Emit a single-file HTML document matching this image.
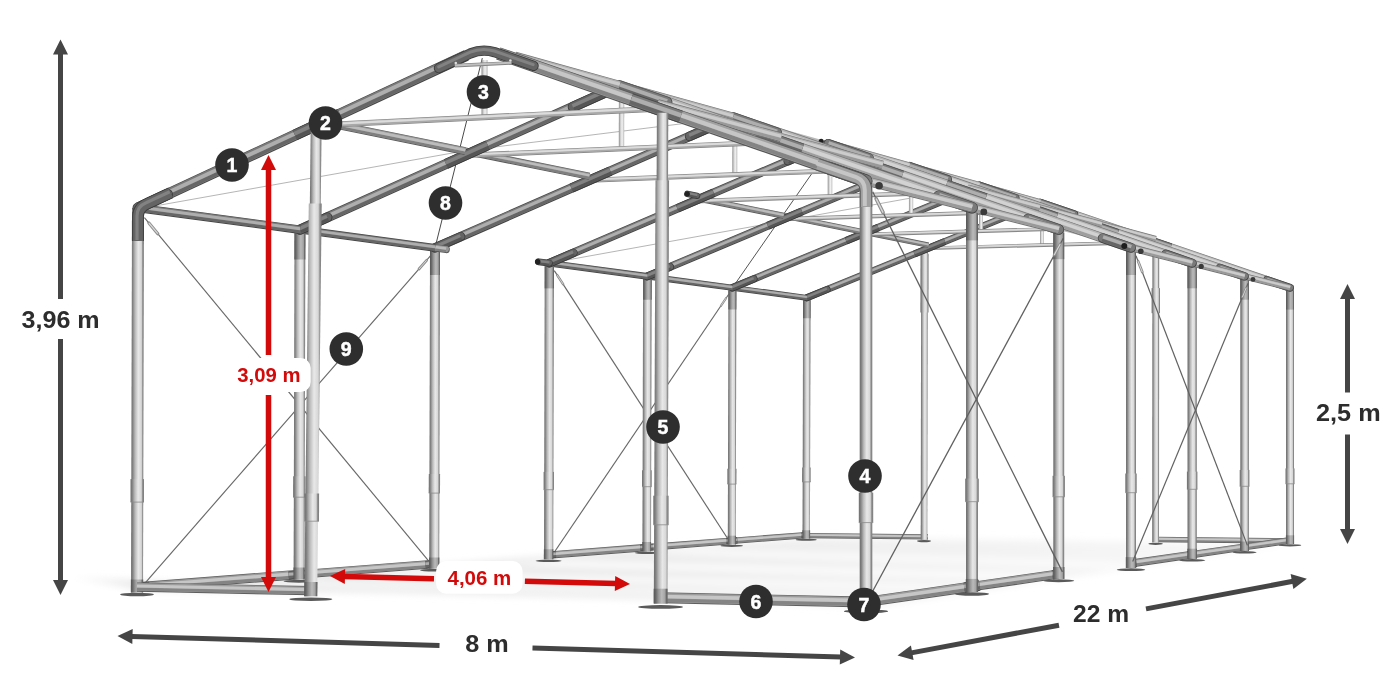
<!DOCTYPE html>
<html lang="pl">
<head>
<meta charset="utf-8">
<title>Wymiary konstrukcji hali namiotowej 8 m x 22 m</title>
<style>
html,body{margin:0;padding:0;background:#fff;}
body{width:1400px;height:700px;overflow:hidden;}
svg{display:block;will-change:transform;}
svg text{font-family:"Liberation Sans",sans-serif;font-weight:700;}
</style>
</head>
<body>
<svg width="1400" height="700" viewBox="0 0 1400 700">
<defs>
<linearGradient id="floor" gradientUnits="userSpaceOnUse" x1="64" y1="0" x2="1290" y2="0">
<stop offset="0" stop-color="#ffffff"/><stop offset="0.06" stop-color="#e7e7e7"/><stop offset="0.4" stop-color="#e9e9e9"/><stop offset="0.65" stop-color="#f0f0f0"/><stop offset="1" stop-color="#f8f8f8"/>
</linearGradient>
<filter id="soft" x="-5%" y="-20%" width="110%" height="140%"><feGaussianBlur stdDeviation="3.5"/></filter>
<linearGradient id="pg" x1="0" y1="0" x2="1" y2="0">
<stop offset="0" stop-color="#6e6e6e"/><stop offset="0.13" stop-color="#828282"/><stop offset="0.32" stop-color="#bababa"/><stop offset="0.56" stop-color="#e8e8e8"/><stop offset="0.8" stop-color="#d6d6d6"/><stop offset="0.89" stop-color="#929292"/><stop offset="1" stop-color="#787878"/>
</linearGradient>
<linearGradient id="pgm" x1="0" y1="0" x2="1" y2="0">
<stop offset="0" stop-color="#555555"/><stop offset="0.15" stop-color="#6a6a6a"/><stop offset="0.35" stop-color="#969696"/><stop offset="0.58" stop-color="#bababa"/><stop offset="0.82" stop-color="#a4a4a4"/><stop offset="0.9" stop-color="#707070"/><stop offset="1" stop-color="#5a5a5a"/>
</linearGradient>
<linearGradient id="pgd" x1="0" y1="0" x2="1" y2="0">
<stop offset="0" stop-color="#3e3e3e"/><stop offset="0.2" stop-color="#5a5a5a"/><stop offset="0.55" stop-color="#8c8c8c"/><stop offset="0.85" stop-color="#6e6e6e"/><stop offset="1" stop-color="#444444"/>
</linearGradient>
<linearGradient id="pgt" x1="0" y1="0" x2="1" y2="0">
<stop offset="0" stop-color="#8a8a8a"/><stop offset="0.3" stop-color="#cccccc"/><stop offset="0.6" stop-color="#f2f2f2"/><stop offset="0.85" stop-color="#d6d6d6"/><stop offset="1" stop-color="#909090"/>
</linearGradient>
<linearGradient id="floorL" x1="0" y1="0" x2="1" y2="0">
<stop offset="0" stop-color="#ffffff"/><stop offset="1" stop-color="#ededed"/>
</linearGradient>
</defs>
<rect width="1400" height="700" fill="#fff"/>
<g id="frame">
<g filter="url(#soft)">
<polygon points="62.0,576.5 145.2,590.5 383.7,592.6 675.0,599.7 871.9,607.1 1290.0,544.0 813.1,537.9 511.3,558.7 200.5,583.6" fill="url(#floor)"/>
<polygon points="256.7,584.7 896.4,599.4 921.7,595.7 302.6,581.0" fill="#fff" fill-opacity="0.85"/>
<polygon points="360.1,576.3 953.7,591.0 987.2,586.1 420.0,571.4" fill="#fff" fill-opacity="0.85"/>
<polygon points="493.1,565.4 1028.5,580.0 1066.3,574.4 559.4,559.9" fill="#fff" fill-opacity="0.8"/>
<polygon points="634.2,553.8 1109.3,568.1 1145.8,562.8 697.0,548.7" fill="#fff" fill-opacity="0.7"/>
</g>
<line x1="806.2" y1="535.6" x2="928.0" y2="536.9" stroke-linecap="butt" stroke="#5e5e5e" stroke-width="5.28"/>
<line x1="806.2" y1="535.4" x2="928.0" y2="536.7" stroke-linecap="butt" stroke="#9c9c9c" stroke-width="3.68"/>
<line x1="806.2" y1="536.7" x2="928.0" y2="538.1" stroke-linecap="butt" stroke="#848484" stroke-width="1.58"/>
<line x1="806.2" y1="534.9" x2="928.0" y2="536.3" stroke-linecap="butt" stroke="#c6c6c6" stroke-width="1.80"/>
<line x1="1155.6" y1="539.4" x2="1290.0" y2="540.9" stroke-linecap="butt" stroke="#5e5e5e" stroke-width="5.55"/>
<line x1="1155.6" y1="539.2" x2="1290.0" y2="540.7" stroke-linecap="butt" stroke="#9c9c9c" stroke-width="3.95"/>
<line x1="1155.6" y1="540.7" x2="1290.0" y2="542.1" stroke-linecap="butt" stroke="#848484" stroke-width="1.66"/>
<line x1="1155.6" y1="538.8" x2="1290.0" y2="540.3" stroke-linecap="butt" stroke="#c6c6c6" stroke-width="1.89"/>
<ellipse cx="924.0" cy="541.1" rx="7.0" ry="1.1" fill="#5a5a5a"/>
<ellipse cx="1155.6" cy="543.8" rx="7.2" ry="1.1" fill="#5a5a5a"/>
<polygon points="920.7,539.8 927.3,539.8 927.8,248.3 921.2,248.3" fill="url(#pg)"/>
<polygon points="920.4,312.5 928.5,312.5 928.6,253.8 920.5,253.8" fill="url(#pg)"/>
<polygon points="1152.2,542.5 1159.0,542.5 1159.2,242.1 1152.4,242.1" fill="url(#pg)"/>
<polygon points="1151.6,313.2 1160.0,313.2 1160.0,288.1 1151.6,288.1" fill="url(#pg)"/>
<line x1="731.8" y1="540.9" x2="806.2" y2="535.1" stroke-linecap="butt" stroke="#5e5e5e" stroke-width="6.44"/>
<line x1="731.7" y1="540.7" x2="806.2" y2="534.9" stroke-linecap="butt" stroke="#9c9c9c" stroke-width="4.84"/>
<line x1="731.9" y1="542.3" x2="806.3" y2="536.5" stroke-linecap="butt" stroke="#848484" stroke-width="1.93"/>
<line x1="731.7" y1="540.1" x2="806.2" y2="534.3" stroke-linecap="butt" stroke="#c6c6c6" stroke-width="2.19"/>
<line x1="646.7" y1="547.5" x2="731.8" y2="540.9" stroke-linecap="butt" stroke="#5e5e5e" stroke-width="6.88"/>
<line x1="646.7" y1="547.3" x2="731.7" y2="540.7" stroke-linecap="butt" stroke="#9c9c9c" stroke-width="5.28"/>
<line x1="646.8" y1="549.0" x2="731.9" y2="542.4" stroke-linecap="butt" stroke="#848484" stroke-width="2.06"/>
<line x1="646.6" y1="546.7" x2="731.7" y2="540.0" stroke-linecap="butt" stroke="#c6c6c6" stroke-width="2.34"/>
<line x1="548.6" y1="555.1" x2="646.7" y2="547.5" stroke-linecap="butt" stroke="#5e5e5e" stroke-width="7.39"/>
<line x1="548.6" y1="554.9" x2="646.7" y2="547.3" stroke-linecap="butt" stroke="#9c9c9c" stroke-width="5.79"/>
<line x1="548.7" y1="556.7" x2="646.8" y2="549.1" stroke-linecap="butt" stroke="#848484" stroke-width="2.22"/>
<line x1="548.5" y1="554.2" x2="646.6" y2="546.6" stroke-linecap="butt" stroke="#c6c6c6" stroke-width="2.51"/>
<line x1="299.1" y1="574.5" x2="434.2" y2="564.0" stroke-linecap="butt" stroke="#5e5e5e" stroke-width="8.67"/>
<line x1="299.0" y1="574.3" x2="434.2" y2="563.8" stroke-linecap="butt" stroke="#9c9c9c" stroke-width="7.07"/>
<line x1="299.2" y1="576.4" x2="434.3" y2="565.9" stroke-linecap="butt" stroke="#848484" stroke-width="2.60"/>
<line x1="299.0" y1="573.5" x2="434.1" y2="563.0" stroke-linecap="butt" stroke="#c6c6c6" stroke-width="2.95"/>
<line x1="137.0" y1="587.1" x2="299.1" y2="574.5" stroke-linecap="butt" stroke="#5e5e5e" stroke-width="9.49"/>
<line x1="137.0" y1="586.9" x2="299.0" y2="574.3" stroke-linecap="butt" stroke="#9c9c9c" stroke-width="7.89"/>
<line x1="137.2" y1="589.2" x2="299.2" y2="576.6" stroke-linecap="butt" stroke="#848484" stroke-width="2.85"/>
<line x1="136.9" y1="586.0" x2="299.0" y2="573.4" stroke-linecap="butt" stroke="#c6c6c6" stroke-width="3.23"/>
<line x1="554.3" y1="270.6" x2="728.1" y2="539.3" stroke="#686868" stroke-width="1.15"/>
<line x1="557.2" y1="275.1" x2="563.1" y2="284.1" stroke="#8e8e8e" stroke-width="2.5" stroke-linecap="round"/>
<line x1="557.2" y1="275.1" x2="563.1" y2="284.1" stroke="#d8d8d8" stroke-width="0.9"/>
<line x1="553.6" y1="553.3" x2="728.7" y2="294.2" stroke="#686868" stroke-width="1.15"/>
<line x1="726.1" y1="298.1" x2="720.9" y2="305.8" stroke="#8e8e8e" stroke-width="2.1" stroke-linecap="round"/>
<line x1="726.1" y1="298.1" x2="720.9" y2="305.8" stroke="#d8d8d8" stroke-width="0.8"/>
<line x1="144.4" y1="217.6" x2="429.6" y2="562.1" stroke="#686868" stroke-width="1.15"/>
<line x1="148.9" y1="223.0" x2="157.8" y2="233.7" stroke="#8e8e8e" stroke-width="3.2" stroke-linecap="round"/>
<line x1="148.9" y1="223.0" x2="157.8" y2="233.7" stroke="#d8d8d8" stroke-width="1.2"/>
<line x1="143.5" y1="584.8" x2="430.4" y2="255.9" stroke="#686868" stroke-width="1.15"/>
<line x1="426.6" y1="260.3" x2="419.0" y2="269.0" stroke="#8e8e8e" stroke-width="2.7" stroke-linecap="round"/>
<line x1="426.6" y1="260.3" x2="419.0" y2="269.0" stroke="#d8d8d8" stroke-width="1.0"/>
<line x1="828.2" y1="150.0" x2="732.4" y2="287.8" stroke="#555" stroke-width="1.0"/>
<line x1="549.3" y1="263.2" x2="979.4" y2="185.7" stroke="#adadad" stroke-width="0.9"/>
<polyline points="152,206.5 466,150.6 733.0,117.4" fill="none" stroke="#adadad" stroke-width="0.9"/>
<line x1="482.3" y1="58.1" x2="435.0" y2="247.9" stroke="#4a4a4a" stroke-width="1.0"/>
<line x1="828.2" y1="143.8" x2="1244.6" y2="276.4" stroke="#adadad" stroke-width="0.9"/>
<line x1="866.0" y1="181.0" x2="733.0" y2="117.4" stroke="#adadad" stroke-width="0.9"/>
<polygon points="1040.0,245.1 1043.6,245.1 1043.7,210.0 1040.1,210.0" fill="url(#pgt)"/>
<line x1="928.5" y1="248.2" x2="1155.8" y2="242.1" stroke-linecap="butt" stroke="#848484" stroke-width="3.61"/>
<line x1="928.5" y1="248.0" x2="1155.8" y2="241.9" stroke-linecap="butt" stroke="#c0c0c0" stroke-width="2.01"/>
<line x1="928.5" y1="247.7" x2="1155.8" y2="241.6" stroke-linecap="butt" stroke="#dcdcdc" stroke-width="1.23"/>
<ellipse cx="806.2" cy="539.7" rx="10.6" ry="1.1" fill="#5a5a5a"/>
<polygon points="802.5,538.4 809.9,538.4 810.6,297.8 803.1,297.8" fill="url(#pg)"/>
<polygon points="802.1,481.9 810.6,481.9 810.6,467.4 802.2,467.4" fill="url(#pg)"/>
<line x1="802.1" y1="481.9" x2="810.6" y2="481.9" stroke="#8a8a8a" stroke-width="0.8"/>
<line x1="801.3" y1="535.5" x2="806.2" y2="535.1" stroke-linecap="butt" stroke="#454545" stroke-width="5.75"/>
<line x1="801.3" y1="535.3" x2="806.2" y2="534.9" stroke-linecap="butt" stroke="#7a7a7a" stroke-width="4.15"/>
<line x1="801.4" y1="536.7" x2="806.3" y2="536.3" stroke-linecap="butt" stroke="#666666" stroke-width="1.72"/>
<line x1="801.2" y1="534.8" x2="806.2" y2="534.4" stroke-linecap="butt" stroke="#aeaeae" stroke-width="1.95"/>
<polygon points="802.3,538.4 810.1,538.4 810.1,530.3 802.4,530.3" fill="url(#pgm)"/>
<polygon points="803.0,318.2 810.5,318.2 810.6,300.2 803.1,300.2" fill="url(#pgm)"/>
<line x1="806.8" y1="297.8" x2="1040.4" y2="202.6" stroke-linecap="round" stroke="#454545" stroke-width="6.97"/>
<line x1="806.8" y1="297.6" x2="1040.4" y2="202.4" stroke-linecap="round" stroke="#7a7a7a" stroke-width="5.37"/>
<line x1="807.4" y1="299.2" x2="1041.0" y2="204.0" stroke-linecap="butt" stroke="#666666" stroke-width="2.09"/>
<line x1="806.5" y1="297.0" x2="1040.1" y2="201.8" stroke-linecap="butt" stroke="#aeaeae" stroke-width="2.37"/>
<line x1="806.8" y1="297.8" x2="827.2" y2="289.4" stroke-linecap="round" stroke="#3c3c3c" stroke-width="6.87"/>
<line x1="806.8" y1="297.6" x2="827.2" y2="289.3" stroke-linecap="round" stroke="#646464" stroke-width="5.27"/>
<line x1="807.4" y1="299.2" x2="827.8" y2="290.8" stroke-linecap="butt" stroke="#555555" stroke-width="2.06"/>
<line x1="806.5" y1="297.0" x2="826.9" y2="288.7" stroke-linecap="butt" stroke="#828282" stroke-width="2.34"/>
<line x1="914.5" y1="253.9" x2="944.9" y2="241.5" stroke-linecap="butt" stroke="#3c3c3c" stroke-width="6.98"/>
<line x1="914.4" y1="253.7" x2="944.9" y2="241.3" stroke-linecap="butt" stroke="#646464" stroke-width="5.38"/>
<line x1="915.1" y1="255.3" x2="945.5" y2="242.9" stroke-linecap="butt" stroke="#555555" stroke-width="2.09"/>
<line x1="914.2" y1="253.1" x2="944.6" y2="240.7" stroke-linecap="butt" stroke="#828282" stroke-width="2.37"/>
<line x1="1006.8" y1="216.3" x2="1040.4" y2="202.6" stroke-linecap="round" stroke="#3c3c3c" stroke-width="7.07"/>
<line x1="1006.7" y1="216.1" x2="1040.4" y2="202.4" stroke-linecap="round" stroke="#646464" stroke-width="5.47"/>
<line x1="1007.4" y1="217.7" x2="1041.0" y2="204.1" stroke-linecap="butt" stroke="#555555" stroke-width="2.12"/>
<line x1="1006.5" y1="215.5" x2="1040.1" y2="201.8" stroke-linecap="butt" stroke="#828282" stroke-width="2.40"/>
<line x1="732.4" y1="287.8" x2="806.8" y2="297.8" stroke-linecap="butt" stroke="#454545" stroke-width="5.79"/>
<line x1="732.4" y1="287.6" x2="806.9" y2="297.6" stroke-linecap="butt" stroke="#7a7a7a" stroke-width="4.19"/>
<line x1="732.2" y1="289.1" x2="806.7" y2="299.0" stroke-linecap="butt" stroke="#666666" stroke-width="1.74"/>
<line x1="732.5" y1="287.1" x2="806.9" y2="297.1" stroke-linecap="butt" stroke="#aeaeae" stroke-width="1.97"/>
<line x1="861.0" y1="231.5" x2="928.5" y2="245.2" stroke-linecap="butt" stroke="#5a5a5a" stroke-width="5.37"/>
<line x1="861.0" y1="231.3" x2="928.6" y2="245.0" stroke-linecap="butt" stroke="#969696" stroke-width="3.77"/>
<line x1="860.7" y1="232.7" x2="928.3" y2="246.4" stroke-linecap="butt" stroke="#7f7f7f" stroke-width="1.61"/>
<line x1="861.1" y1="230.9" x2="928.7" y2="244.6" stroke-linecap="butt" stroke="#bcbcbc" stroke-width="1.83"/>
<polygon points="979.0,231.2 982.9,231.2 982.9,193.6 979.0,193.6" fill="url(#pgt)"/>
<line x1="861.0" y1="234.6" x2="1101.9" y2="227.6" stroke-linecap="butt" stroke="#848484" stroke-width="3.86"/>
<line x1="861.0" y1="234.4" x2="1101.9" y2="227.4" stroke-linecap="butt" stroke="#c0c0c0" stroke-width="2.26"/>
<line x1="860.9" y1="234.2" x2="1101.9" y2="227.2" stroke-linecap="butt" stroke="#dcdcdc" stroke-width="1.31"/>
<ellipse cx="731.7" cy="545.8" rx="11.3" ry="1.1" fill="#5a5a5a"/>
<polygon points="727.8,544.5 735.7,544.5 736.4,287.8 728.4,287.8" fill="url(#pg)"/>
<polygon points="727.4,484.1 736.4,484.1 736.5,468.7 727.4,468.7" fill="url(#pg)"/>
<line x1="727.4" y1="484.1" x2="736.4" y2="484.1" stroke="#8a8a8a" stroke-width="0.8"/>
<line x1="726.2" y1="541.3" x2="737.3" y2="540.4" stroke-linecap="butt" stroke="#454545" stroke-width="6.12"/>
<line x1="726.2" y1="541.1" x2="737.3" y2="540.2" stroke-linecap="butt" stroke="#7a7a7a" stroke-width="4.52"/>
<line x1="726.3" y1="542.6" x2="737.4" y2="541.8" stroke-linecap="butt" stroke="#666666" stroke-width="1.84"/>
<line x1="726.1" y1="540.6" x2="737.2" y2="539.7" stroke-linecap="butt" stroke="#aeaeae" stroke-width="2.08"/>
<polygon points="727.6,544.5 735.9,544.5 735.9,535.7 727.6,535.7" fill="url(#pgm)"/>
<polygon points="728.4,309.6 736.3,309.6 736.4,290.4 728.4,290.4" fill="url(#pgm)"/>
<line x1="732.4" y1="287.8" x2="979.4" y2="185.7" stroke-linecap="round" stroke="#454545" stroke-width="7.44"/>
<line x1="732.3" y1="287.6" x2="979.4" y2="185.5" stroke-linecap="round" stroke="#7a7a7a" stroke-width="5.84"/>
<line x1="733.0" y1="289.3" x2="980.1" y2="187.2" stroke-linecap="butt" stroke="#666666" stroke-width="2.23"/>
<line x1="732.1" y1="287.0" x2="979.1" y2="184.9" stroke-linecap="butt" stroke="#aeaeae" stroke-width="2.53"/>
<line x1="732.4" y1="287.8" x2="754.0" y2="278.9" stroke-linecap="round" stroke="#3c3c3c" stroke-width="7.33"/>
<line x1="732.3" y1="287.6" x2="753.9" y2="278.7" stroke-linecap="round" stroke="#646464" stroke-width="5.73"/>
<line x1="733.0" y1="289.3" x2="754.6" y2="280.4" stroke-linecap="butt" stroke="#555555" stroke-width="2.20"/>
<line x1="732.1" y1="287.0" x2="753.6" y2="278.1" stroke-linecap="butt" stroke="#828282" stroke-width="2.49"/>
<line x1="846.1" y1="240.8" x2="878.3" y2="227.5" stroke-linecap="butt" stroke="#3c3c3c" stroke-width="7.45"/>
<line x1="846.1" y1="240.6" x2="878.2" y2="227.3" stroke-linecap="butt" stroke="#646464" stroke-width="5.85"/>
<line x1="846.8" y1="242.3" x2="878.9" y2="229.0" stroke-linecap="butt" stroke="#555555" stroke-width="2.24"/>
<line x1="845.8" y1="239.9" x2="878.0" y2="226.6" stroke-linecap="butt" stroke="#828282" stroke-width="2.53"/>
<line x1="943.8" y1="200.4" x2="979.4" y2="185.7" stroke-linecap="round" stroke="#3c3c3c" stroke-width="7.56"/>
<line x1="943.7" y1="200.2" x2="979.4" y2="185.5" stroke-linecap="round" stroke="#646464" stroke-width="5.96"/>
<line x1="944.5" y1="202.0" x2="980.1" y2="187.3" stroke-linecap="butt" stroke="#555555" stroke-width="2.27"/>
<line x1="943.5" y1="199.6" x2="979.1" y2="184.9" stroke-linecap="butt" stroke="#828282" stroke-width="2.57"/>
<line x1="647.4" y1="276.4" x2="732.4" y2="287.8" stroke-linecap="butt" stroke="#454545" stroke-width="6.19"/>
<line x1="647.4" y1="276.2" x2="732.4" y2="287.6" stroke-linecap="butt" stroke="#7a7a7a" stroke-width="4.59"/>
<line x1="647.2" y1="277.7" x2="732.2" y2="289.1" stroke-linecap="butt" stroke="#666666" stroke-width="1.86"/>
<line x1="647.5" y1="275.6" x2="732.5" y2="287.1" stroke-linecap="butt" stroke="#aeaeae" stroke-width="2.10"/>
<line x1="783.6" y1="215.8" x2="861.0" y2="231.5" stroke-linecap="butt" stroke="#5a5a5a" stroke-width="5.75"/>
<line x1="783.6" y1="215.6" x2="861.0" y2="231.3" stroke-linecap="butt" stroke="#969696" stroke-width="4.15"/>
<line x1="783.3" y1="217.0" x2="860.7" y2="232.7" stroke-linecap="butt" stroke="#7f7f7f" stroke-width="1.72"/>
<line x1="783.7" y1="215.1" x2="861.1" y2="230.8" stroke-linecap="butt" stroke="#bcbcbc" stroke-width="1.95"/>
<polygon points="908.9,215.1 913.1,215.1 913.1,174.8 909.0,174.8" fill="url(#pgt)"/>
<line x1="783.6" y1="219.1" x2="1039.8" y2="211.0" stroke-linecap="butt" stroke="#848484" stroke-width="4.14"/>
<line x1="783.6" y1="218.9" x2="1039.8" y2="210.8" stroke-linecap="butt" stroke="#c0c0c0" stroke-width="2.54"/>
<line x1="783.6" y1="218.6" x2="1039.8" y2="210.5" stroke-linecap="butt" stroke="#dcdcdc" stroke-width="1.41"/>
<ellipse cx="646.7" cy="552.8" rx="12.1" ry="1.2" fill="#5a5a5a"/>
<polygon points="642.4,551.3 651.0,551.3 651.7,276.4 643.1,276.4" fill="url(#pg)"/>
<polygon points="642.0,486.7 651.7,486.7 651.7,470.2 642.1,470.2" fill="url(#pg)"/>
<line x1="642.0" y1="486.7" x2="651.7" y2="486.7" stroke="#8a8a8a" stroke-width="0.8"/>
<line x1="640.3" y1="548.0" x2="653.0" y2="547.0" stroke-linecap="butt" stroke="#454545" stroke-width="6.55"/>
<line x1="640.3" y1="547.8" x2="653.0" y2="546.8" stroke-linecap="butt" stroke="#7a7a7a" stroke-width="4.95"/>
<line x1="640.4" y1="549.4" x2="653.2" y2="548.4" stroke-linecap="butt" stroke="#666666" stroke-width="1.97"/>
<line x1="640.2" y1="547.2" x2="653.0" y2="546.2" stroke-linecap="butt" stroke="#aeaeae" stroke-width="2.23"/>
<polygon points="642.3,551.3 651.1,551.3 651.1,542.0 642.3,542.0" fill="url(#pgm)"/>
<polygon points="643.1,299.7 651.6,299.7 651.7,279.1 643.1,279.1" fill="url(#pgm)"/>
<line x1="647.4" y1="276.4" x2="909.4" y2="166.3" stroke-linecap="round" stroke="#454545" stroke-width="7.98"/>
<line x1="647.3" y1="276.2" x2="909.4" y2="166.1" stroke-linecap="round" stroke="#7a7a7a" stroke-width="6.38"/>
<line x1="648.1" y1="278.0" x2="910.1" y2="167.9" stroke-linecap="butt" stroke="#666666" stroke-width="2.39"/>
<line x1="647.0" y1="275.5" x2="909.1" y2="165.4" stroke-linecap="butt" stroke="#aeaeae" stroke-width="2.71"/>
<line x1="647.4" y1="276.4" x2="670.2" y2="266.8" stroke-linecap="round" stroke="#3c3c3c" stroke-width="7.85"/>
<line x1="647.3" y1="276.2" x2="670.1" y2="266.6" stroke-linecap="round" stroke="#646464" stroke-width="6.25"/>
<line x1="648.1" y1="278.0" x2="670.9" y2="268.4" stroke-linecap="butt" stroke="#555555" stroke-width="2.35"/>
<line x1="647.0" y1="275.5" x2="669.8" y2="265.9" stroke-linecap="butt" stroke="#828282" stroke-width="2.67"/>
<line x1="767.9" y1="225.7" x2="802.0" y2="211.4" stroke-linecap="butt" stroke="#3c3c3c" stroke-width="7.99"/>
<line x1="767.8" y1="225.6" x2="801.9" y2="211.2" stroke-linecap="butt" stroke="#646464" stroke-width="6.39"/>
<line x1="768.6" y1="227.4" x2="802.7" y2="213.0" stroke-linecap="butt" stroke="#555555" stroke-width="2.40"/>
<line x1="767.5" y1="224.9" x2="801.6" y2="210.5" stroke-linecap="butt" stroke="#828282" stroke-width="2.72"/>
<line x1="871.6" y1="182.2" x2="909.4" y2="166.3" stroke-linecap="round" stroke="#3c3c3c" stroke-width="8.11"/>
<line x1="871.5" y1="182.0" x2="909.4" y2="166.1" stroke-linecap="round" stroke="#646464" stroke-width="6.51"/>
<line x1="872.3" y1="183.9" x2="910.1" y2="168.0" stroke-linecap="butt" stroke="#555555" stroke-width="2.43"/>
<line x1="871.2" y1="181.3" x2="909.1" y2="165.4" stroke-linecap="butt" stroke="#828282" stroke-width="2.76"/>
<line x1="549.3" y1="263.2" x2="647.4" y2="276.4" stroke-linecap="butt" stroke="#454545" stroke-width="6.65"/>
<line x1="549.4" y1="263.0" x2="647.4" y2="276.2" stroke-linecap="butt" stroke="#7a7a7a" stroke-width="5.05"/>
<line x1="549.2" y1="264.7" x2="647.2" y2="277.8" stroke-linecap="butt" stroke="#666666" stroke-width="1.99"/>
<line x1="549.5" y1="262.4" x2="647.5" y2="275.6" stroke-linecap="butt" stroke="#aeaeae" stroke-width="2.26"/>
<line x1="694.1" y1="197.6" x2="783.6" y2="215.8" stroke-linecap="butt" stroke="#5a5a5a" stroke-width="6.18"/>
<line x1="694.1" y1="197.4" x2="783.6" y2="215.6" stroke-linecap="butt" stroke="#969696" stroke-width="4.58"/>
<line x1="693.8" y1="198.9" x2="783.3" y2="217.1" stroke-linecap="butt" stroke="#7f7f7f" stroke-width="1.85"/>
<line x1="694.2" y1="196.9" x2="783.7" y2="215.0" stroke-linecap="butt" stroke="#bcbcbc" stroke-width="2.10"/>
<polygon points="827.7,196.5 832.2,196.5 832.2,153.0 827.7,153.0" fill="url(#pgt)"/>
<line x1="694.1" y1="201.2" x2="967.6" y2="191.7" stroke-linecap="butt" stroke="#848484" stroke-width="4.47"/>
<line x1="694.1" y1="201.0" x2="967.6" y2="191.5" stroke-linecap="butt" stroke="#c0c0c0" stroke-width="2.87"/>
<line x1="694.1" y1="200.7" x2="967.6" y2="191.2" stroke-linecap="butt" stroke="#dcdcdc" stroke-width="1.52"/>
<ellipse cx="548.6" cy="560.8" rx="13.0" ry="1.3" fill="#5a5a5a"/>
<polygon points="544.0,559.3 553.2,559.3 554.0,263.2 544.7,263.2" fill="url(#pg)"/>
<polygon points="543.6,489.7 554.0,489.7 554.0,471.9 543.6,471.9" fill="url(#pg)"/>
<line x1="543.6" y1="489.7" x2="554.0" y2="489.7" stroke="#8a8a8a" stroke-width="0.8"/>
<line x1="548.6" y1="555.1" x2="555.9" y2="554.5" stroke-linecap="butt" stroke="#454545" stroke-width="7.04"/>
<line x1="548.6" y1="554.9" x2="555.9" y2="554.3" stroke-linecap="butt" stroke="#7a7a7a" stroke-width="5.44"/>
<line x1="548.7" y1="556.7" x2="556.1" y2="556.1" stroke-linecap="butt" stroke="#666666" stroke-width="2.11"/>
<line x1="548.5" y1="554.3" x2="555.9" y2="553.7" stroke-linecap="butt" stroke="#aeaeae" stroke-width="2.39"/>
<polygon points="543.8,559.3 553.3,559.3 553.4,549.2 543.9,549.2" fill="url(#pgm)"/>
<polygon points="544.7,288.4 553.9,288.4 553.9,266.2 544.7,266.2" fill="url(#pgm)"/>
<line x1="549.3" y1="263.2" x2="828.2" y2="143.8" stroke-linecap="round" stroke="#454545" stroke-width="8.61"/>
<line x1="549.3" y1="263.0" x2="828.2" y2="143.6" stroke-linecap="round" stroke="#7a7a7a" stroke-width="7.01"/>
<line x1="550.1" y1="265.0" x2="829.0" y2="145.6" stroke-linecap="butt" stroke="#666666" stroke-width="2.58"/>
<line x1="548.9" y1="262.3" x2="827.8" y2="142.9" stroke-linecap="butt" stroke="#aeaeae" stroke-width="2.93"/>
<line x1="549.3" y1="263.2" x2="573.5" y2="252.8" stroke-linecap="round" stroke="#3c3c3c" stroke-width="8.45"/>
<line x1="549.3" y1="263.0" x2="573.5" y2="252.7" stroke-linecap="round" stroke="#646464" stroke-width="6.85"/>
<line x1="550.1" y1="264.9" x2="574.3" y2="254.5" stroke-linecap="butt" stroke="#555555" stroke-width="2.54"/>
<line x1="549.0" y1="262.3" x2="573.1" y2="251.9" stroke-linecap="butt" stroke="#828282" stroke-width="2.87"/>
<line x1="677.4" y1="208.4" x2="713.7" y2="192.8" stroke-linecap="butt" stroke="#3c3c3c" stroke-width="8.62"/>
<line x1="677.3" y1="208.2" x2="713.6" y2="192.6" stroke-linecap="butt" stroke="#646464" stroke-width="7.02"/>
<line x1="678.1" y1="210.1" x2="714.5" y2="194.6" stroke-linecap="butt" stroke="#555555" stroke-width="2.59"/>
<line x1="677.0" y1="207.4" x2="713.3" y2="191.9" stroke-linecap="butt" stroke="#828282" stroke-width="2.93"/>
<line x1="787.8" y1="161.1" x2="828.2" y2="143.8" stroke-linecap="round" stroke="#3c3c3c" stroke-width="8.76"/>
<line x1="787.7" y1="160.9" x2="828.2" y2="143.6" stroke-linecap="round" stroke="#646464" stroke-width="7.16"/>
<line x1="788.6" y1="162.9" x2="829.0" y2="145.6" stroke-linecap="butt" stroke="#555555" stroke-width="2.63"/>
<line x1="787.4" y1="160.1" x2="827.8" y2="142.9" stroke-linecap="butt" stroke="#828282" stroke-width="2.98"/>
<line x1="687.3" y1="193.8" x2="697.1" y2="195.8" stroke-linecap="round" stroke="#3c3c3c" stroke-width="6.42"/>
<line x1="687.3" y1="193.6" x2="697.1" y2="195.6" stroke-linecap="round" stroke="#646464" stroke-width="4.82"/>
<line x1="687.0" y1="195.2" x2="696.8" y2="197.1" stroke-linecap="butt" stroke="#555555" stroke-width="1.93"/>
<line x1="687.5" y1="193.0" x2="697.3" y2="195.0" stroke-linecap="butt" stroke="#828282" stroke-width="2.18"/>
<circle cx="687.3" cy="193.8" r="2.6" fill="#222"/>
<line x1="538.7" y1="261.8" x2="549.3" y2="263.2" stroke-linecap="round" stroke="#3c3c3c" stroke-width="6.90"/>
<line x1="538.7" y1="261.6" x2="549.4" y2="263.0" stroke-linecap="round" stroke="#646464" stroke-width="5.30"/>
<line x1="538.5" y1="263.3" x2="549.1" y2="264.7" stroke-linecap="butt" stroke="#555555" stroke-width="2.07"/>
<line x1="538.8" y1="261.0" x2="549.5" y2="262.4" stroke-linecap="butt" stroke="#828282" stroke-width="2.35"/>
<circle cx="537.7" cy="261.8" r="2.8" fill="#222"/>
<polygon points="732.3,174.7 737.2,174.7 737.2,127.4 732.4,127.4" fill="url(#pgt)"/>
<line x1="589.4" y1="180.2" x2="882.6" y2="169.0" stroke-linecap="butt" stroke="#848484" stroke-width="4.86"/>
<line x1="589.4" y1="180.0" x2="882.6" y2="168.8" stroke-linecap="butt" stroke="#c0c0c0" stroke-width="3.26"/>
<line x1="589.4" y1="181.3" x2="882.6" y2="170.1" stroke-linecap="butt" stroke="#a9a9a9" stroke-width="1.46"/>
<line x1="589.4" y1="179.6" x2="882.6" y2="168.4" stroke-linecap="butt" stroke="#dcdcdc" stroke-width="1.65"/>
<ellipse cx="434.2" cy="570.2" rx="14.1" ry="1.4" fill="#5a5a5a"/>
<polygon points="429.2,568.5 439.2,568.5 440.0,247.9 430.0,247.9" fill="url(#pg)"/>
<polygon points="428.7,493.1 440.0,493.1 440.1,473.9 428.8,473.9" fill="url(#pg)"/>
<line x1="428.7" y1="493.1" x2="440.0" y2="493.1" stroke="#8a8a8a" stroke-width="0.8"/>
<line x1="425.5" y1="564.7" x2="434.2" y2="564.0" stroke-linecap="butt" stroke="#454545" stroke-width="7.66"/>
<line x1="425.4" y1="564.5" x2="434.2" y2="563.8" stroke-linecap="butt" stroke="#7a7a7a" stroke-width="6.06"/>
<line x1="425.6" y1="566.4" x2="434.3" y2="565.7" stroke-linecap="butt" stroke="#666666" stroke-width="2.30"/>
<line x1="425.4" y1="563.8" x2="434.1" y2="563.1" stroke-linecap="butt" stroke="#aeaeae" stroke-width="2.61"/>
<polygon points="429.0,568.5 439.3,568.5 439.4,557.6 429.1,557.6" fill="url(#pgm)"/>
<polygon points="430.0,275.1 439.9,275.1 440.0,251.1 430.0,251.1" fill="url(#pgm)"/>
<line x1="435.0" y1="247.9" x2="733.0" y2="117.4" stroke-linecap="round" stroke="#454545" stroke-width="9.34"/>
<line x1="434.9" y1="247.7" x2="732.9" y2="117.2" stroke-linecap="round" stroke="#7a7a7a" stroke-width="7.74"/>
<line x1="435.8" y1="249.7" x2="733.8" y2="119.3" stroke-linecap="butt" stroke="#666666" stroke-width="2.80"/>
<line x1="434.6" y1="246.8" x2="732.5" y2="116.4" stroke-linecap="butt" stroke="#aeaeae" stroke-width="3.17"/>
<line x1="435.0" y1="247.9" x2="460.8" y2="236.6" stroke-linecap="round" stroke="#3c3c3c" stroke-width="9.15"/>
<line x1="434.9" y1="247.7" x2="460.7" y2="236.4" stroke-linecap="round" stroke="#646464" stroke-width="7.55"/>
<line x1="435.8" y1="249.7" x2="461.6" y2="238.4" stroke-linecap="butt" stroke="#555555" stroke-width="2.75"/>
<line x1="434.6" y1="246.9" x2="460.3" y2="235.6" stroke-linecap="butt" stroke="#828282" stroke-width="3.11"/>
<line x1="571.5" y1="188.1" x2="610.3" y2="171.1" stroke-linecap="butt" stroke="#3c3c3c" stroke-width="9.35"/>
<line x1="571.4" y1="187.9" x2="610.3" y2="170.9" stroke-linecap="butt" stroke="#646464" stroke-width="7.75"/>
<line x1="572.3" y1="189.9" x2="611.2" y2="172.9" stroke-linecap="butt" stroke="#555555" stroke-width="2.81"/>
<line x1="571.1" y1="187.0" x2="609.9" y2="170.0" stroke-linecap="butt" stroke="#828282" stroke-width="3.18"/>
<line x1="689.6" y1="136.4" x2="733.0" y2="117.4" stroke-linecap="round" stroke="#3c3c3c" stroke-width="9.52"/>
<line x1="689.6" y1="136.2" x2="732.9" y2="117.2" stroke-linecap="round" stroke="#646464" stroke-width="7.92"/>
<line x1="690.5" y1="138.3" x2="733.8" y2="119.3" stroke-linecap="butt" stroke="#555555" stroke-width="2.86"/>
<line x1="689.2" y1="135.3" x2="732.5" y2="116.4" stroke-linecap="butt" stroke="#828282" stroke-width="3.24"/>
<line x1="435.0" y1="247.9" x2="446.1" y2="249.4" stroke-linecap="round" stroke="#5a5a5a" stroke-width="7.48"/>
<line x1="435.0" y1="247.7" x2="446.1" y2="249.2" stroke-linecap="round" stroke="#969696" stroke-width="5.88"/>
<line x1="434.8" y1="249.5" x2="445.9" y2="251.0" stroke-linecap="butt" stroke="#7f7f7f" stroke-width="2.24"/>
<line x1="435.1" y1="247.0" x2="446.2" y2="248.5" stroke-linecap="butt" stroke="#bcbcbc" stroke-width="2.54"/>
<line x1="300.0" y1="229.7" x2="435.0" y2="247.9" stroke-linecap="butt" stroke="#454545" stroke-width="7.80"/>
<line x1="300.0" y1="229.5" x2="435.0" y2="247.7" stroke-linecap="butt" stroke="#7a7a7a" stroke-width="6.20"/>
<line x1="299.7" y1="231.4" x2="434.8" y2="249.6" stroke-linecap="butt" stroke="#666666" stroke-width="2.34"/>
<line x1="300.1" y1="228.8" x2="435.1" y2="246.9" stroke-linecap="butt" stroke="#aeaeae" stroke-width="2.65"/>
<line x1="465.2" y1="151.1" x2="589.4" y2="176.3" stroke-linecap="butt" stroke="#5a5a5a" stroke-width="7.28"/>
<line x1="465.3" y1="150.9" x2="589.4" y2="176.1" stroke-linecap="butt" stroke="#969696" stroke-width="5.68"/>
<line x1="464.9" y1="152.6" x2="589.1" y2="177.9" stroke-linecap="butt" stroke="#7f7f7f" stroke-width="2.18"/>
<line x1="465.4" y1="150.2" x2="589.6" y2="175.4" stroke-linecap="butt" stroke="#bcbcbc" stroke-width="2.47"/>
<polygon points="618.8,148.7 624.1,148.7 624.2,96.9 618.9,96.9" fill="url(#pgt)"/>
<line x1="465.2" y1="155.4" x2="781.1" y2="141.9" stroke-linecap="butt" stroke="#848484" stroke-width="5.32"/>
<line x1="465.2" y1="155.2" x2="781.1" y2="141.7" stroke-linecap="butt" stroke="#c0c0c0" stroke-width="3.72"/>
<line x1="465.3" y1="156.5" x2="781.1" y2="143.0" stroke-linecap="butt" stroke="#a9a9a9" stroke-width="1.60"/>
<line x1="465.2" y1="154.7" x2="781.0" y2="141.2" stroke-linecap="butt" stroke="#dcdcdc" stroke-width="1.81"/>
<ellipse cx="299.0" cy="581.2" rx="15.4" ry="1.5" fill="#5a5a5a"/>
<polygon points="293.6,579.4 304.5,579.4 305.4,229.7 294.5,229.7" fill="url(#pg)"/>
<polygon points="293.1,497.2 305.4,497.2 305.5,476.3 293.2,476.3" fill="url(#pg)"/>
<line x1="293.1" y1="497.2" x2="305.4" y2="497.2" stroke="#8a8a8a" stroke-width="0.8"/>
<line x1="288.7" y1="575.3" x2="309.3" y2="573.7" stroke-linecap="butt" stroke="#454545" stroke-width="8.33"/>
<line x1="288.7" y1="575.1" x2="309.3" y2="573.5" stroke-linecap="butt" stroke="#7a7a7a" stroke-width="6.73"/>
<line x1="288.8" y1="577.2" x2="309.5" y2="575.5" stroke-linecap="butt" stroke="#666666" stroke-width="2.50"/>
<line x1="288.6" y1="574.3" x2="309.2" y2="572.7" stroke-linecap="butt" stroke="#aeaeae" stroke-width="2.83"/>
<polygon points="293.4,579.4 304.7,579.4 304.7,567.5 293.5,567.5" fill="url(#pgm)"/>
<polygon points="294.4,259.5 305.3,259.5 305.4,233.2 294.5,233.2" fill="url(#pgm)"/>
<line x1="300.0" y1="229.7" x2="619.5" y2="86.0" stroke-linecap="round" stroke="#454545" stroke-width="10.20"/>
<line x1="299.9" y1="229.6" x2="619.5" y2="85.8" stroke-linecap="round" stroke="#7a7a7a" stroke-width="8.60"/>
<line x1="300.9" y1="231.8" x2="620.5" y2="88.0" stroke-linecap="butt" stroke="#666666" stroke-width="3.06"/>
<line x1="299.5" y1="228.6" x2="619.0" y2="84.9" stroke-linecap="butt" stroke="#aeaeae" stroke-width="3.47"/>
<line x1="300.0" y1="229.7" x2="327.5" y2="217.3" stroke-linecap="round" stroke="#3c3c3c" stroke-width="9.98"/>
<line x1="299.9" y1="229.6" x2="327.4" y2="217.2" stroke-linecap="round" stroke="#646464" stroke-width="8.38"/>
<line x1="300.9" y1="231.7" x2="328.4" y2="219.3" stroke-linecap="butt" stroke="#555555" stroke-width="3.00"/>
<line x1="299.5" y1="228.6" x2="327.0" y2="216.2" stroke-linecap="butt" stroke="#828282" stroke-width="3.39"/>
<line x1="446.1" y1="164.0" x2="487.7" y2="145.2" stroke-linecap="butt" stroke="#3c3c3c" stroke-width="10.22"/>
<line x1="446.0" y1="163.8" x2="487.6" y2="145.1" stroke-linecap="butt" stroke="#646464" stroke-width="8.62"/>
<line x1="447.0" y1="166.0" x2="488.6" y2="147.3" stroke-linecap="butt" stroke="#555555" stroke-width="3.07"/>
<line x1="445.5" y1="162.9" x2="487.2" y2="144.1" stroke-linecap="butt" stroke="#828282" stroke-width="3.48"/>
<line x1="572.9" y1="106.9" x2="619.5" y2="86.0" stroke-linecap="round" stroke="#3c3c3c" stroke-width="10.42"/>
<line x1="572.9" y1="106.7" x2="619.5" y2="85.8" stroke-linecap="round" stroke="#646464" stroke-width="8.82"/>
<line x1="573.9" y1="109.0" x2="620.5" y2="88.1" stroke-linecap="butt" stroke="#555555" stroke-width="3.13"/>
<line x1="572.4" y1="105.8" x2="619.0" y2="84.9" stroke-linecap="butt" stroke="#828282" stroke-width="3.54"/>
<line x1="138.0" y1="208.0" x2="300.0" y2="229.7" stroke-linecap="butt" stroke="#454545" stroke-width="8.54"/>
<line x1="138.0" y1="207.8" x2="300.0" y2="229.5" stroke-linecap="butt" stroke="#7a7a7a" stroke-width="6.94"/>
<line x1="137.8" y1="209.9" x2="299.7" y2="231.6" stroke-linecap="butt" stroke="#666666" stroke-width="2.56"/>
<line x1="138.1" y1="207.0" x2="300.1" y2="228.7" stroke-linecap="butt" stroke="#aeaeae" stroke-width="2.90"/>
<line x1="315.6" y1="120.6" x2="465.2" y2="151.1" stroke-linecap="butt" stroke="#5a5a5a" stroke-width="7.99"/>
<line x1="315.7" y1="120.5" x2="465.3" y2="150.9" stroke-linecap="butt" stroke="#969696" stroke-width="6.39"/>
<line x1="315.3" y1="122.4" x2="464.9" y2="152.8" stroke-linecap="butt" stroke="#7f7f7f" stroke-width="2.40"/>
<line x1="315.8" y1="119.7" x2="465.4" y2="150.1" stroke-linecap="butt" stroke="#bcbcbc" stroke-width="2.72"/>
<polygon points="481.5,117.2 487.3,117.2 487.4,60.0 481.5,60.0" fill="url(#pgt)"/>
<line x1="315.6" y1="125.4" x2="657.6" y2="108.9" stroke-linecap="butt" stroke="#848484" stroke-width="5.88"/>
<line x1="315.6" y1="125.2" x2="657.6" y2="108.7" stroke-linecap="butt" stroke="#c0c0c0" stroke-width="4.28"/>
<line x1="315.7" y1="126.7" x2="657.7" y2="110.1" stroke-linecap="butt" stroke="#a9a9a9" stroke-width="1.76"/>
<line x1="315.6" y1="124.7" x2="657.6" y2="108.1" stroke-linecap="butt" stroke="#dcdcdc" stroke-width="2.00"/>
<ellipse cx="137.0" cy="594.5" rx="16.9" ry="1.7" fill="#5a5a5a"/>
<polygon points="131.0,592.5 143.0,592.5 144.0,208.0 132.0,208.0" fill="url(#pg)"/>
<polygon points="130.5,502.1 144.0,502.1 144.0,479.1 130.5,479.1" fill="url(#pg)"/>
<line x1="130.5" y1="502.1" x2="144.0" y2="502.1" stroke="#8a8a8a" stroke-width="0.8"/>
<line x1="137.0" y1="587.1" x2="149.4" y2="586.2" stroke-linecap="butt" stroke="#454545" stroke-width="9.13"/>
<line x1="137.0" y1="586.9" x2="149.4" y2="586.0" stroke-linecap="butt" stroke="#7a7a7a" stroke-width="7.53"/>
<line x1="137.2" y1="589.1" x2="149.6" y2="588.2" stroke-linecap="butt" stroke="#666666" stroke-width="2.74"/>
<line x1="136.9" y1="586.0" x2="149.3" y2="585.1" stroke-linecap="butt" stroke="#aeaeae" stroke-width="3.10"/>
<polygon points="130.8,592.5 143.2,592.5 143.2,579.4 130.9,579.4" fill="url(#pgm)"/>
<polygon points="131.9,240.7 143.9,240.7 144.0,211.8 132.0,211.8" fill="url(#pgm)"/>
<line x1="138.0" y1="208.0" x2="466.4" y2="55.4" stroke-linecap="butt" stroke="#454545" stroke-width="11.23"/>
<line x1="137.9" y1="207.8" x2="466.3" y2="55.2" stroke-linecap="butt" stroke="#7a7a7a" stroke-width="9.63"/>
<line x1="139.0" y1="210.2" x2="467.4" y2="57.6" stroke-linecap="butt" stroke="#666666" stroke-width="3.37"/>
<line x1="137.4" y1="206.8" x2="465.8" y2="54.1" stroke-linecap="butt" stroke="#aeaeae" stroke-width="3.82"/>
<line x1="138.0" y1="208.0" x2="167.5" y2="194.3" stroke-linecap="round" stroke="#3c3c3c" stroke-width="10.98"/>
<line x1="137.9" y1="207.8" x2="167.5" y2="194.1" stroke-linecap="round" stroke="#646464" stroke-width="9.38"/>
<line x1="139.0" y1="210.2" x2="168.6" y2="196.4" stroke-linecap="butt" stroke="#555555" stroke-width="3.29"/>
<line x1="137.4" y1="206.8" x2="167.0" y2="193.1" stroke-linecap="butt" stroke="#828282" stroke-width="3.73"/>
<line x1="295.0" y1="135.0" x2="339.9" y2="114.1" stroke-linecap="butt" stroke="#3c3c3c" stroke-width="11.27"/>
<line x1="294.9" y1="134.8" x2="339.8" y2="113.9" stroke-linecap="butt" stroke="#646464" stroke-width="9.67"/>
<line x1="296.0" y1="137.2" x2="340.9" y2="116.4" stroke-linecap="butt" stroke="#555555" stroke-width="3.38"/>
<line x1="294.4" y1="133.8" x2="339.3" y2="112.9" stroke-linecap="butt" stroke="#828282" stroke-width="3.83"/>
<line x1="1244.6" y1="547.0" x2="1290.0" y2="540.4" stroke-linecap="butt" stroke="#5e5e5e" stroke-width="6.76"/>
<line x1="1244.5" y1="546.8" x2="1290.0" y2="540.2" stroke-linecap="butt" stroke="#9c9c9c" stroke-width="5.16"/>
<line x1="1244.8" y1="548.5" x2="1290.2" y2="541.9" stroke-linecap="butt" stroke="#848484" stroke-width="2.03"/>
<line x1="1244.5" y1="546.2" x2="1289.9" y2="539.6" stroke-linecap="butt" stroke="#c6c6c6" stroke-width="2.30"/>
<line x1="1192.2" y1="554.6" x2="1244.6" y2="547.0" stroke-linecap="butt" stroke="#5e5e5e" stroke-width="7.26"/>
<line x1="1192.1" y1="554.4" x2="1244.5" y2="546.8" stroke-linecap="butt" stroke="#9c9c9c" stroke-width="5.66"/>
<line x1="1192.4" y1="556.2" x2="1244.8" y2="548.6" stroke-linecap="butt" stroke="#848484" stroke-width="2.18"/>
<line x1="1192.0" y1="553.8" x2="1244.4" y2="546.2" stroke-linecap="butt" stroke="#c6c6c6" stroke-width="2.47"/>
<line x1="1131.0" y1="563.5" x2="1192.2" y2="554.6" stroke-linecap="butt" stroke="#5e5e5e" stroke-width="7.84"/>
<line x1="1131.0" y1="563.3" x2="1192.1" y2="554.4" stroke-linecap="butt" stroke="#9c9c9c" stroke-width="6.24"/>
<line x1="1131.2" y1="565.2" x2="1192.4" y2="556.3" stroke-linecap="butt" stroke="#848484" stroke-width="2.35"/>
<line x1="1130.9" y1="562.6" x2="1192.0" y2="553.7" stroke-linecap="butt" stroke="#c6c6c6" stroke-width="2.67"/>
<line x1="972.0" y1="586.6" x2="1058.7" y2="574.0" stroke-linecap="butt" stroke="#5e5e5e" stroke-width="9.33"/>
<line x1="972.0" y1="586.4" x2="1058.7" y2="573.8" stroke-linecap="butt" stroke="#9c9c9c" stroke-width="7.73"/>
<line x1="972.3" y1="588.7" x2="1059.0" y2="576.0" stroke-linecap="butt" stroke="#848484" stroke-width="2.80"/>
<line x1="971.8" y1="585.5" x2="1058.6" y2="572.9" stroke-linecap="butt" stroke="#c6c6c6" stroke-width="3.17"/>
<line x1="866.0" y1="602.0" x2="972.0" y2="586.6" stroke-linecap="butt" stroke="#5e5e5e" stroke-width="10.32"/>
<line x1="866.0" y1="601.8" x2="972.0" y2="586.4" stroke-linecap="butt" stroke="#9c9c9c" stroke-width="8.72"/>
<line x1="866.3" y1="604.3" x2="972.3" y2="588.9" stroke-linecap="butt" stroke="#848484" stroke-width="3.09"/>
<line x1="865.8" y1="600.8" x2="971.8" y2="585.4" stroke-linecap="butt" stroke="#c6c6c6" stroke-width="3.51"/>
<ellipse cx="1290.0" cy="545.3" rx="11.3" ry="1.1" fill="#5a5a5a"/>
<polygon points="1286.0,544.0 1294.0,544.0 1294.0,287.8 1286.0,287.8" fill="url(#pg)"/>
<polygon points="1285.5,483.8 1294.5,483.8 1294.5,468.4 1285.5,468.4" fill="url(#pg)"/>
<line x1="1285.5" y1="483.8" x2="1294.5" y2="483.8" stroke="#8a8a8a" stroke-width="0.8"/>
<line x1="1286.6" y1="540.9" x2="1290.0" y2="540.4" stroke-linecap="butt" stroke="#454545" stroke-width="6.95"/>
<line x1="1286.6" y1="540.7" x2="1290.0" y2="540.2" stroke-linecap="butt" stroke="#7a7a7a" stroke-width="5.35"/>
<line x1="1286.8" y1="542.4" x2="1290.2" y2="541.9" stroke-linecap="butt" stroke="#666666" stroke-width="2.09"/>
<line x1="1286.5" y1="540.1" x2="1289.9" y2="539.6" stroke-linecap="butt" stroke="#aeaeae" stroke-width="2.36"/>
<polygon points="1285.9,544.0 1294.1,544.0 1294.1,535.3 1285.9,535.3" fill="url(#pgm)"/>
<polygon points="1286.0,309.6 1294.0,309.6 1294.0,290.4 1286.0,290.4" fill="url(#pgm)"/>
<ellipse cx="1244.6" cy="552.3" rx="12.1" ry="1.2" fill="#5a5a5a"/>
<polygon points="1240.3,550.9 1248.9,550.9 1248.9,276.4 1240.3,276.4" fill="url(#pg)"/>
<polygon points="1239.7,486.3 1249.4,486.3 1249.4,469.9 1239.7,469.9" fill="url(#pg)"/>
<line x1="1239.7" y1="486.3" x2="1249.4" y2="486.3" stroke="#8a8a8a" stroke-width="0.8"/>
<line x1="1240.7" y1="547.6" x2="1248.4" y2="546.5" stroke-linecap="butt" stroke="#454545" stroke-width="7.43"/>
<line x1="1240.6" y1="547.4" x2="1248.4" y2="546.3" stroke-linecap="butt" stroke="#7a7a7a" stroke-width="5.83"/>
<line x1="1240.9" y1="549.2" x2="1248.7" y2="548.1" stroke-linecap="butt" stroke="#666666" stroke-width="2.23"/>
<line x1="1240.5" y1="546.7" x2="1248.3" y2="545.6" stroke-linecap="butt" stroke="#aeaeae" stroke-width="2.53"/>
<polygon points="1240.1,550.9 1249.0,550.9 1249.0,541.5 1240.1,541.5" fill="url(#pgm)"/>
<polygon points="1240.3,299.7 1248.9,299.7 1248.9,279.1 1240.3,279.1" fill="url(#pgm)"/>
<ellipse cx="1192.2" cy="560.3" rx="13.1" ry="1.3" fill="#5a5a5a"/>
<polygon points="1187.5,558.8 1196.8,558.8 1196.8,263.2 1187.5,263.2" fill="url(#pg)"/>
<polygon points="1186.9,489.3 1197.4,489.3 1197.4,471.6 1186.9,471.6" fill="url(#pg)"/>
<line x1="1186.9" y1="489.3" x2="1197.4" y2="489.3" stroke="#8a8a8a" stroke-width="0.8"/>
<line x1="1187.6" y1="555.3" x2="1196.6" y2="554.0" stroke-linecap="butt" stroke="#454545" stroke-width="8.00"/>
<line x1="1187.6" y1="555.1" x2="1196.6" y2="553.8" stroke-linecap="butt" stroke="#7a7a7a" stroke-width="6.40"/>
<line x1="1187.9" y1="557.0" x2="1196.9" y2="555.7" stroke-linecap="butt" stroke="#666666" stroke-width="2.40"/>
<line x1="1187.5" y1="554.3" x2="1196.5" y2="553.0" stroke-linecap="butt" stroke="#aeaeae" stroke-width="2.72"/>
<polygon points="1187.4,558.8 1196.9,558.8 1196.9,548.7 1187.4,548.7" fill="url(#pgm)"/>
<polygon points="1187.5,288.3 1196.8,288.3 1196.8,266.1 1187.5,266.1" fill="url(#pgm)"/>
<ellipse cx="1131.0" cy="569.7" rx="14.2" ry="1.4" fill="#5a5a5a"/>
<polygon points="1126.0,568.0 1136.0,568.0 1136.0,247.8 1126.0,247.8" fill="url(#pg)"/>
<polygon points="1125.3,492.7 1136.7,492.7 1136.7,473.5 1125.3,473.5" fill="url(#pg)"/>
<line x1="1125.3" y1="492.7" x2="1136.7" y2="492.7" stroke="#8a8a8a" stroke-width="0.8"/>
<line x1="1131.0" y1="563.5" x2="1136.3" y2="562.8" stroke-linecap="butt" stroke="#454545" stroke-width="8.64"/>
<line x1="1131.0" y1="563.3" x2="1136.2" y2="562.6" stroke-linecap="butt" stroke="#7a7a7a" stroke-width="7.04"/>
<line x1="1131.3" y1="565.4" x2="1136.5" y2="564.6" stroke-linecap="butt" stroke="#666666" stroke-width="2.59"/>
<line x1="1130.9" y1="562.5" x2="1136.1" y2="561.7" stroke-linecap="butt" stroke="#aeaeae" stroke-width="2.94"/>
<polygon points="1125.8,568.0 1136.2,568.0 1136.2,557.1 1125.8,557.1" fill="url(#pgm)"/>
<polygon points="1126.0,275.0 1136.0,275.0 1136.0,251.0 1126.0,251.0" fill="url(#pgm)"/>
<ellipse cx="1058.7" cy="580.7" rx="15.5" ry="1.5" fill="#5a5a5a"/>
<polygon points="1053.3,578.9 1064.2,578.9 1064.2,229.5 1053.3,229.5" fill="url(#pg)"/>
<polygon points="1052.6,496.8 1064.9,496.8 1064.9,475.8 1052.6,475.8" fill="url(#pg)"/>
<line x1="1052.6" y1="496.8" x2="1064.9" y2="496.8" stroke="#8a8a8a" stroke-width="0.8"/>
<line x1="1052.4" y1="574.9" x2="1058.7" y2="574.0" stroke-linecap="butt" stroke="#454545" stroke-width="9.49"/>
<line x1="1052.3" y1="574.7" x2="1058.7" y2="573.8" stroke-linecap="butt" stroke="#7a7a7a" stroke-width="7.89"/>
<line x1="1052.7" y1="577.0" x2="1059.0" y2="576.1" stroke-linecap="butt" stroke="#666666" stroke-width="2.85"/>
<line x1="1052.2" y1="573.8" x2="1058.6" y2="572.9" stroke-linecap="butt" stroke="#aeaeae" stroke-width="3.23"/>
<polygon points="1053.1,578.9 1064.4,578.9 1064.4,567.0 1053.1,567.0" fill="url(#pgm)"/>
<polygon points="1053.3,259.2 1064.2,259.2 1064.2,233.0 1053.3,233.0" fill="url(#pgm)"/>
<ellipse cx="972.0" cy="594.0" rx="17.0" ry="1.7" fill="#5a5a5a"/>
<polygon points="966.0,592.0 978.0,592.0 978.0,207.7 966.0,207.7" fill="url(#pg)"/>
<polygon points="965.2,501.7 978.8,501.7 978.8,478.6 965.2,478.6" fill="url(#pg)"/>
<line x1="965.2" y1="501.7" x2="978.8" y2="501.7" stroke="#8a8a8a" stroke-width="0.8"/>
<line x1="964.3" y1="587.7" x2="979.6" y2="585.5" stroke-linecap="butt" stroke="#454545" stroke-width="10.40"/>
<line x1="964.3" y1="587.5" x2="979.5" y2="585.3" stroke-linecap="butt" stroke="#7a7a7a" stroke-width="8.80"/>
<line x1="964.6" y1="590.0" x2="979.9" y2="587.8" stroke-linecap="butt" stroke="#666666" stroke-width="3.12"/>
<line x1="964.1" y1="586.5" x2="979.4" y2="584.3" stroke-linecap="butt" stroke="#aeaeae" stroke-width="3.54"/>
<polygon points="965.8,592.0 978.2,592.0 978.2,578.9 965.8,578.9" fill="url(#pgm)"/>
<polygon points="966.0,240.4 978.0,240.4 978.0,211.5 966.0,211.5" fill="url(#pgm)"/>
<line x1="1136.0" y1="255.8" x2="1247.4" y2="545.4" stroke="#626262" stroke-width="1.2"/>
<line x1="1138.1" y1="261.2" x2="1142.3" y2="272.1" stroke="#8e8e8e" stroke-width="2.7" stroke-linecap="round"/>
<line x1="1138.1" y1="261.2" x2="1142.3" y2="272.1" stroke="#d8d8d8" stroke-width="1.0"/>
<line x1="1132.7" y1="561.6" x2="1248.1" y2="283.2" stroke="#626262" stroke-width="1.2"/>
<line x1="1246.2" y1="287.8" x2="1242.4" y2="297.1" stroke="#8e8e8e" stroke-width="2.3" stroke-linecap="round"/>
<line x1="1246.2" y1="287.8" x2="1242.4" y2="297.1" stroke="#d8d8d8" stroke-width="0.9"/>
<line x1="872.7" y1="191.7" x2="1062.4" y2="571.9" stroke="#606060" stroke-width="1.3"/>
<line x1="876.1" y1="198.6" x2="883.1" y2="212.6" stroke="#8e8e8e" stroke-width="3.6" stroke-linecap="round"/>
<line x1="876.1" y1="198.6" x2="883.1" y2="212.6" stroke="#d8d8d8" stroke-width="1.3"/>
<line x1="868.2" y1="599.5" x2="1063.3" y2="238.3" stroke="#606060" stroke-width="1.3"/>
<line x1="1060.2" y1="243.9" x2="1054.2" y2="255.1" stroke="#8e8e8e" stroke-width="2.9" stroke-linecap="round"/>
<line x1="1060.2" y1="243.9" x2="1054.2" y2="255.1" stroke="#d8d8d8" stroke-width="1.1"/>
<polygon points="514.9,54.4 619.5,83.6 733.0,115.2 828.2,141.8 909.4,164.5 979.4,184.0 1040.4,201.0 1292.0,288.8 1246.6,277.4 1194.2,264.2 1133.0,248.8 1060.7,230.5 974.0,208.7 868.0,182.0 526.1,63.2" fill="#b9b9b9"/>
<line x1="1040.4" y1="202.6" x2="1290.0" y2="287.8" stroke-linecap="round" stroke="#767676" stroke-width="7.73"/>
<line x1="1040.5" y1="202.4" x2="1290.1" y2="287.6" stroke-linecap="round" stroke="#b6b6b6" stroke-width="6.13"/>
<line x1="1039.9" y1="204.2" x2="1289.5" y2="289.4" stroke-linecap="butt" stroke="#9e9e9e" stroke-width="2.32"/>
<line x1="1040.7" y1="201.7" x2="1290.3" y2="286.9" stroke-linecap="butt" stroke="#d2d2d2" stroke-width="2.63"/>
<line x1="1040.4" y1="202.6" x2="1074.4" y2="214.2" stroke-linecap="round" stroke="#454545" stroke-width="7.62"/>
<line x1="1040.5" y1="202.4" x2="1074.4" y2="214.0" stroke-linecap="round" stroke="#7a7a7a" stroke-width="6.02"/>
<line x1="1039.9" y1="204.2" x2="1073.8" y2="215.8" stroke-linecap="butt" stroke="#666666" stroke-width="2.29"/>
<line x1="1040.7" y1="201.8" x2="1074.6" y2="213.4" stroke-linecap="butt" stroke="#aeaeae" stroke-width="2.59"/>
<line x1="1138.4" y1="236.1" x2="1170.8" y2="247.2" stroke-linecap="butt" stroke="#454545" stroke-width="7.72"/>
<line x1="1138.5" y1="235.9" x2="1170.9" y2="247.0" stroke-linecap="butt" stroke="#7a7a7a" stroke-width="6.12"/>
<line x1="1137.9" y1="237.7" x2="1170.3" y2="248.8" stroke-linecap="butt" stroke="#666666" stroke-width="2.32"/>
<line x1="1138.7" y1="235.3" x2="1171.1" y2="246.3" stroke-linecap="butt" stroke="#aeaeae" stroke-width="2.63"/>
<line x1="1266.8" y1="279.9" x2="1290.0" y2="287.8" stroke-linecap="round" stroke="#454545" stroke-width="7.85"/>
<line x1="1266.9" y1="279.7" x2="1290.1" y2="287.6" stroke-linecap="round" stroke="#7a7a7a" stroke-width="6.25"/>
<line x1="1266.3" y1="281.5" x2="1289.4" y2="289.4" stroke-linecap="butt" stroke="#666666" stroke-width="2.36"/>
<line x1="1267.1" y1="279.0" x2="1290.3" y2="286.9" stroke-linecap="butt" stroke="#aeaeae" stroke-width="2.67"/>
<line x1="1244.6" y1="276.4" x2="1290.0" y2="287.8" stroke-linecap="butt" stroke="#747474" stroke-width="6.21"/>
<line x1="1244.6" y1="276.2" x2="1290.0" y2="287.6" stroke-linecap="butt" stroke="#b0b0b0" stroke-width="4.61"/>
<line x1="1244.2" y1="277.7" x2="1289.7" y2="289.1" stroke-linecap="butt" stroke="#999999" stroke-width="1.86"/>
<line x1="1244.8" y1="275.6" x2="1290.2" y2="287.1" stroke-linecap="butt" stroke="#cccccc" stroke-width="2.11"/>
<line x1="1101.9" y1="224.4" x2="1155.8" y2="239.0" stroke-linecap="butt" stroke="#747474" stroke-width="6.23"/>
<line x1="1101.9" y1="224.2" x2="1155.9" y2="238.9" stroke-linecap="butt" stroke="#b0b0b0" stroke-width="4.63"/>
<line x1="1101.5" y1="225.7" x2="1155.5" y2="240.4" stroke-linecap="butt" stroke="#999999" stroke-width="1.87"/>
<line x1="1102.1" y1="223.7" x2="1156.0" y2="238.3" stroke-linecap="butt" stroke="#cccccc" stroke-width="2.12"/>
<line x1="979.4" y1="185.2" x2="1040.4" y2="202.1" stroke-linecap="butt" stroke="#747474" stroke-width="6.13"/>
<line x1="979.5" y1="185.0" x2="1040.5" y2="201.9" stroke-linecap="butt" stroke="#b0b0b0" stroke-width="4.53"/>
<line x1="979.1" y1="186.5" x2="1040.1" y2="203.4" stroke-linecap="butt" stroke="#999999" stroke-width="1.84"/>
<line x1="979.6" y1="184.5" x2="1040.6" y2="201.4" stroke-linecap="butt" stroke="#cccccc" stroke-width="2.08"/>
<line x1="979.4" y1="185.7" x2="1244.6" y2="276.4" stroke-linecap="round" stroke="#767676" stroke-width="8.27"/>
<line x1="979.5" y1="185.5" x2="1244.6" y2="276.2" stroke-linecap="round" stroke="#b6b6b6" stroke-width="6.67"/>
<line x1="978.9" y1="187.4" x2="1244.0" y2="278.1" stroke-linecap="butt" stroke="#9e9e9e" stroke-width="2.48"/>
<line x1="979.8" y1="184.8" x2="1244.9" y2="275.4" stroke-linecap="butt" stroke="#d2d2d2" stroke-width="2.81"/>
<line x1="979.4" y1="185.7" x2="1015.4" y2="198.0" stroke-linecap="round" stroke="#454545" stroke-width="8.15"/>
<line x1="979.5" y1="185.5" x2="1015.5" y2="197.9" stroke-linecap="round" stroke="#7a7a7a" stroke-width="6.55"/>
<line x1="978.9" y1="187.4" x2="1014.8" y2="199.7" stroke-linecap="butt" stroke="#666666" stroke-width="2.44"/>
<line x1="979.8" y1="184.8" x2="1015.7" y2="197.1" stroke-linecap="butt" stroke="#aeaeae" stroke-width="2.77"/>
<line x1="1083.4" y1="221.3" x2="1117.8" y2="233.1" stroke-linecap="butt" stroke="#454545" stroke-width="8.26"/>
<line x1="1083.5" y1="221.1" x2="1117.9" y2="232.9" stroke-linecap="butt" stroke="#7a7a7a" stroke-width="6.66"/>
<line x1="1082.8" y1="223.0" x2="1117.2" y2="234.8" stroke-linecap="butt" stroke="#666666" stroke-width="2.48"/>
<line x1="1083.7" y1="220.4" x2="1118.1" y2="232.1" stroke-linecap="butt" stroke="#aeaeae" stroke-width="2.81"/>
<line x1="1219.9" y1="267.9" x2="1244.6" y2="276.4" stroke-linecap="round" stroke="#454545" stroke-width="8.41"/>
<line x1="1220.0" y1="267.8" x2="1244.6" y2="276.2" stroke-linecap="round" stroke="#7a7a7a" stroke-width="6.81"/>
<line x1="1219.3" y1="269.7" x2="1244.0" y2="278.1" stroke-linecap="butt" stroke="#666666" stroke-width="2.52"/>
<line x1="1220.2" y1="267.0" x2="1244.9" y2="275.4" stroke-linecap="butt" stroke="#aeaeae" stroke-width="2.86"/>
<circle cx="1253.0" cy="279.4" r="2.4" fill="#3a3a3a"/>
<line x1="1192.2" y1="263.2" x2="1244.6" y2="276.4" stroke-linecap="butt" stroke="#747474" stroke-width="6.67"/>
<line x1="1192.2" y1="263.0" x2="1244.6" y2="276.2" stroke-linecap="butt" stroke="#b0b0b0" stroke-width="5.07"/>
<line x1="1191.8" y1="264.6" x2="1244.2" y2="277.8" stroke-linecap="butt" stroke="#999999" stroke-width="2.00"/>
<line x1="1192.3" y1="262.4" x2="1244.8" y2="275.6" stroke-linecap="butt" stroke="#cccccc" stroke-width="2.27"/>
<line x1="1039.8" y1="207.6" x2="1101.9" y2="224.4" stroke-linecap="butt" stroke="#747474" stroke-width="6.68"/>
<line x1="1039.9" y1="207.4" x2="1101.9" y2="224.2" stroke-linecap="butt" stroke="#b0b0b0" stroke-width="5.08"/>
<line x1="1039.4" y1="209.0" x2="1101.5" y2="225.8" stroke-linecap="butt" stroke="#999999" stroke-width="2.00"/>
<line x1="1040.0" y1="206.8" x2="1102.1" y2="223.6" stroke-linecap="butt" stroke="#cccccc" stroke-width="2.27"/>
<line x1="909.4" y1="165.8" x2="979.4" y2="185.2" stroke-linecap="butt" stroke="#747474" stroke-width="6.56"/>
<line x1="909.5" y1="165.6" x2="979.5" y2="185.0" stroke-linecap="butt" stroke="#b0b0b0" stroke-width="4.96"/>
<line x1="909.1" y1="167.1" x2="979.1" y2="186.6" stroke-linecap="butt" stroke="#999999" stroke-width="1.97"/>
<line x1="909.6" y1="165.0" x2="979.7" y2="184.4" stroke-linecap="butt" stroke="#cccccc" stroke-width="2.23"/>
<line x1="909.4" y1="166.3" x2="1192.2" y2="263.2" stroke-linecap="round" stroke="#767676" stroke-width="8.90"/>
<line x1="909.5" y1="166.1" x2="1192.2" y2="263.0" stroke-linecap="round" stroke="#b6b6b6" stroke-width="7.30"/>
<line x1="908.8" y1="168.2" x2="1191.5" y2="265.0" stroke-linecap="butt" stroke="#9e9e9e" stroke-width="2.67"/>
<line x1="909.8" y1="165.3" x2="1192.5" y2="262.1" stroke-linecap="butt" stroke="#d2d2d2" stroke-width="3.03"/>
<line x1="909.4" y1="166.3" x2="947.7" y2="179.5" stroke-linecap="round" stroke="#454545" stroke-width="8.75"/>
<line x1="909.5" y1="166.1" x2="947.7" y2="179.3" stroke-linecap="round" stroke="#7a7a7a" stroke-width="7.15"/>
<line x1="908.8" y1="168.1" x2="947.1" y2="181.3" stroke-linecap="butt" stroke="#666666" stroke-width="2.63"/>
<line x1="909.8" y1="165.3" x2="948.0" y2="178.5" stroke-linecap="butt" stroke="#aeaeae" stroke-width="2.98"/>
<line x1="1020.1" y1="204.3" x2="1056.8" y2="216.9" stroke-linecap="butt" stroke="#454545" stroke-width="8.89"/>
<line x1="1020.2" y1="204.1" x2="1056.8" y2="216.7" stroke-linecap="butt" stroke="#7a7a7a" stroke-width="7.29"/>
<line x1="1019.5" y1="206.1" x2="1056.1" y2="218.7" stroke-linecap="butt" stroke="#666666" stroke-width="2.67"/>
<line x1="1020.5" y1="203.3" x2="1057.1" y2="215.8" stroke-linecap="butt" stroke="#aeaeae" stroke-width="3.02"/>
<line x1="1165.8" y1="254.1" x2="1192.2" y2="263.2" stroke-linecap="round" stroke="#454545" stroke-width="9.06"/>
<line x1="1165.8" y1="254.0" x2="1192.2" y2="263.0" stroke-linecap="round" stroke="#7a7a7a" stroke-width="7.46"/>
<line x1="1165.1" y1="256.0" x2="1191.5" y2="265.0" stroke-linecap="butt" stroke="#666666" stroke-width="2.72"/>
<line x1="1166.1" y1="253.1" x2="1192.5" y2="262.1" stroke-linecap="butt" stroke="#aeaeae" stroke-width="3.08"/>
<circle cx="1201.2" cy="266.4" r="2.6" fill="#3a3a3a"/>
<line x1="1131.0" y1="247.8" x2="1192.2" y2="263.2" stroke-linecap="butt" stroke="#747474" stroke-width="7.20"/>
<line x1="1131.0" y1="247.6" x2="1192.2" y2="263.0" stroke-linecap="butt" stroke="#b0b0b0" stroke-width="5.60"/>
<line x1="1130.6" y1="249.3" x2="1191.8" y2="264.7" stroke-linecap="butt" stroke="#999999" stroke-width="2.16"/>
<line x1="1131.2" y1="246.9" x2="1192.4" y2="262.3" stroke-linecap="butt" stroke="#cccccc" stroke-width="2.45"/>
<line x1="967.6" y1="188.0" x2="1039.8" y2="207.6" stroke-linecap="butt" stroke="#747474" stroke-width="7.20"/>
<line x1="967.7" y1="187.8" x2="1039.9" y2="207.4" stroke-linecap="butt" stroke="#b0b0b0" stroke-width="5.60"/>
<line x1="967.2" y1="189.5" x2="1039.4" y2="209.1" stroke-linecap="butt" stroke="#999999" stroke-width="2.16"/>
<line x1="967.8" y1="187.1" x2="1040.0" y2="206.7" stroke-linecap="butt" stroke="#cccccc" stroke-width="2.45"/>
<line x1="828.2" y1="143.2" x2="909.4" y2="165.8" stroke-linecap="butt" stroke="#747474" stroke-width="7.07"/>
<line x1="828.3" y1="143.0" x2="909.5" y2="165.6" stroke-linecap="butt" stroke="#b0b0b0" stroke-width="5.47"/>
<line x1="827.8" y1="144.7" x2="909.0" y2="167.2" stroke-linecap="butt" stroke="#999999" stroke-width="2.12"/>
<line x1="828.5" y1="142.4" x2="909.7" y2="164.9" stroke-linecap="butt" stroke="#cccccc" stroke-width="2.40"/>
<line x1="828.2" y1="143.8" x2="1131.0" y2="247.8" stroke-linecap="round" stroke="#767676" stroke-width="9.62"/>
<line x1="828.3" y1="143.6" x2="1131.1" y2="247.6" stroke-linecap="round" stroke="#b6b6b6" stroke-width="8.02"/>
<line x1="827.6" y1="145.8" x2="1130.3" y2="249.8" stroke-linecap="butt" stroke="#9e9e9e" stroke-width="2.89"/>
<line x1="828.6" y1="142.7" x2="1131.4" y2="246.7" stroke-linecap="butt" stroke="#d2d2d2" stroke-width="3.27"/>
<line x1="828.2" y1="143.8" x2="869.1" y2="157.9" stroke-linecap="round" stroke="#454545" stroke-width="9.45"/>
<line x1="828.3" y1="143.6" x2="869.2" y2="157.7" stroke-linecap="round" stroke="#7a7a7a" stroke-width="7.85"/>
<line x1="827.6" y1="145.8" x2="868.4" y2="159.8" stroke-linecap="butt" stroke="#666666" stroke-width="2.84"/>
<line x1="828.6" y1="142.7" x2="869.5" y2="156.8" stroke-linecap="butt" stroke="#aeaeae" stroke-width="3.21"/>
<line x1="946.5" y1="184.5" x2="985.8" y2="198.0" stroke-linecap="butt" stroke="#454545" stroke-width="9.61"/>
<line x1="946.6" y1="184.3" x2="985.8" y2="197.8" stroke-linecap="butt" stroke="#7a7a7a" stroke-width="8.01"/>
<line x1="945.9" y1="186.5" x2="985.1" y2="200.0" stroke-linecap="butt" stroke="#666666" stroke-width="2.88"/>
<line x1="946.9" y1="183.4" x2="986.1" y2="196.9" stroke-linecap="butt" stroke="#aeaeae" stroke-width="3.27"/>
<line x1="1102.7" y1="238.1" x2="1131.0" y2="247.8" stroke-linecap="round" stroke="#454545" stroke-width="9.81"/>
<line x1="1102.7" y1="237.9" x2="1131.1" y2="247.6" stroke-linecap="round" stroke="#7a7a7a" stroke-width="8.21"/>
<line x1="1102.0" y1="240.1" x2="1130.3" y2="249.8" stroke-linecap="butt" stroke="#666666" stroke-width="2.94"/>
<line x1="1103.1" y1="236.9" x2="1131.4" y2="246.6" stroke-linecap="butt" stroke="#aeaeae" stroke-width="3.34"/>
<circle cx="1140.8" cy="251.2" r="2.8" fill="#3a3a3a"/>
<circle cx="1124.3" cy="246.1" r="3.0" fill="#1e1e1e"/>
<circle cx="821.2" cy="141.2" r="2.5" fill="#1e1e1e"/>
<line x1="733.0" y1="117.4" x2="1058.7" y2="229.5" stroke-linecap="round" stroke="#767676" stroke-width="10.48"/>
<line x1="733.0" y1="117.2" x2="1058.8" y2="229.4" stroke-linecap="round" stroke="#b6b6b6" stroke-width="8.88"/>
<line x1="732.2" y1="119.6" x2="1058.0" y2="231.7" stroke-linecap="butt" stroke="#9e9e9e" stroke-width="3.14"/>
<line x1="733.4" y1="116.2" x2="1059.1" y2="228.4" stroke-linecap="butt" stroke="#d2d2d2" stroke-width="3.56"/>
<line x1="733.0" y1="117.4" x2="776.8" y2="132.5" stroke-linecap="round" stroke="#454545" stroke-width="10.28"/>
<line x1="733.0" y1="117.2" x2="776.8" y2="132.3" stroke-linecap="round" stroke="#7a7a7a" stroke-width="8.68"/>
<line x1="732.2" y1="119.6" x2="776.0" y2="134.7" stroke-linecap="butt" stroke="#666666" stroke-width="3.08"/>
<line x1="733.4" y1="116.3" x2="777.2" y2="131.4" stroke-linecap="butt" stroke="#aeaeae" stroke-width="3.49"/>
<line x1="860.0" y1="161.2" x2="902.1" y2="175.7" stroke-linecap="butt" stroke="#454545" stroke-width="10.46"/>
<line x1="860.0" y1="161.0" x2="902.2" y2="175.5" stroke-linecap="butt" stroke="#7a7a7a" stroke-width="8.86"/>
<line x1="859.2" y1="163.4" x2="901.4" y2="177.9" stroke-linecap="butt" stroke="#666666" stroke-width="3.14"/>
<line x1="860.4" y1="160.0" x2="902.6" y2="174.5" stroke-linecap="butt" stroke="#aeaeae" stroke-width="3.56"/>
<line x1="1028.1" y1="219.0" x2="1058.7" y2="229.5" stroke-linecap="round" stroke="#454545" stroke-width="10.70"/>
<line x1="1028.2" y1="218.9" x2="1058.8" y2="229.4" stroke-linecap="round" stroke="#7a7a7a" stroke-width="9.10"/>
<line x1="1027.4" y1="221.3" x2="1058.0" y2="231.8" stroke-linecap="butt" stroke="#666666" stroke-width="3.21"/>
<line x1="1028.6" y1="217.8" x2="1059.1" y2="228.3" stroke-linecap="butt" stroke="#aeaeae" stroke-width="3.64"/>
<line x1="972.0" y1="207.7" x2="1058.7" y2="229.5" stroke-linecap="butt" stroke="#747474" stroke-width="8.57"/>
<line x1="972.0" y1="207.5" x2="1058.8" y2="229.4" stroke-linecap="butt" stroke="#b0b0b0" stroke-width="6.97"/>
<line x1="971.5" y1="209.5" x2="1058.3" y2="231.4" stroke-linecap="butt" stroke="#999999" stroke-width="2.57"/>
<line x1="972.3" y1="206.7" x2="1059.0" y2="228.5" stroke-linecap="butt" stroke="#cccccc" stroke-width="2.91"/>
<line x1="781.1" y1="137.4" x2="882.6" y2="164.9" stroke-linecap="butt" stroke="#747474" stroke-width="8.54"/>
<line x1="781.1" y1="137.2" x2="882.7" y2="164.7" stroke-linecap="butt" stroke="#b0b0b0" stroke-width="6.94"/>
<line x1="780.6" y1="139.2" x2="882.1" y2="166.7" stroke-linecap="butt" stroke="#999999" stroke-width="2.56"/>
<line x1="781.3" y1="136.4" x2="882.9" y2="163.9" stroke-linecap="butt" stroke="#cccccc" stroke-width="2.90"/>
<line x1="619.5" y1="85.3" x2="733.0" y2="116.7" stroke-linecap="butt" stroke="#747474" stroke-width="8.35"/>
<line x1="619.6" y1="85.1" x2="733.0" y2="116.6" stroke-linecap="butt" stroke="#b0b0b0" stroke-width="6.75"/>
<line x1="619.1" y1="87.0" x2="732.5" y2="118.5" stroke-linecap="butt" stroke="#999999" stroke-width="2.50"/>
<line x1="619.8" y1="84.3" x2="733.2" y2="115.8" stroke-linecap="butt" stroke="#cccccc" stroke-width="2.84"/>
<line x1="619.5" y1="86.0" x2="972.0" y2="207.7" stroke-linecap="round" stroke="#767676" stroke-width="11.50"/>
<line x1="619.6" y1="85.8" x2="972.1" y2="207.5" stroke-linecap="round" stroke="#b6b6b6" stroke-width="9.90"/>
<line x1="618.7" y1="88.4" x2="971.2" y2="210.1" stroke-linecap="butt" stroke="#9e9e9e" stroke-width="3.45"/>
<line x1="620.0" y1="84.7" x2="972.5" y2="206.4" stroke-linecap="butt" stroke="#d2d2d2" stroke-width="3.91"/>
<line x1="619.5" y1="86.0" x2="666.8" y2="102.3" stroke-linecap="round" stroke="#454545" stroke-width="11.26"/>
<line x1="619.6" y1="85.8" x2="666.8" y2="102.1" stroke-linecap="round" stroke="#7a7a7a" stroke-width="9.66"/>
<line x1="618.7" y1="88.3" x2="665.9" y2="104.7" stroke-linecap="butt" stroke="#666666" stroke-width="3.38"/>
<line x1="620.0" y1="84.7" x2="667.2" y2="101.1" stroke-linecap="butt" stroke="#aeaeae" stroke-width="3.83"/>
<line x1="756.6" y1="133.4" x2="802.2" y2="149.2" stroke-linecap="butt" stroke="#454545" stroke-width="11.48"/>
<line x1="756.6" y1="133.2" x2="802.3" y2="149.0" stroke-linecap="butt" stroke="#7a7a7a" stroke-width="9.88"/>
<line x1="755.7" y1="135.8" x2="801.4" y2="151.5" stroke-linecap="butt" stroke="#666666" stroke-width="3.44"/>
<line x1="757.0" y1="132.1" x2="802.6" y2="147.9" stroke-linecap="butt" stroke="#aeaeae" stroke-width="3.90"/>
<line x1="938.8" y1="196.3" x2="972.0" y2="207.7" stroke-linecap="round" stroke="#454545" stroke-width="11.77"/>
<line x1="938.8" y1="196.1" x2="972.1" y2="207.5" stroke-linecap="round" stroke="#7a7a7a" stroke-width="10.17"/>
<line x1="937.9" y1="198.7" x2="971.2" y2="210.1" stroke-linecap="butt" stroke="#666666" stroke-width="3.53"/>
<line x1="939.2" y1="194.9" x2="972.5" y2="206.4" stroke-linecap="butt" stroke="#aeaeae" stroke-width="4.00"/>
<circle cx="983.8" cy="211.9" r="3.4" fill="#3a3a3a"/>
<line x1="866.0" y1="181.0" x2="972.0" y2="207.7" stroke-linecap="butt" stroke="#747474" stroke-width="9.47"/>
<line x1="866.0" y1="180.8" x2="972.0" y2="207.5" stroke-linecap="butt" stroke="#b0b0b0" stroke-width="7.87"/>
<line x1="865.5" y1="183.0" x2="971.5" y2="209.7" stroke-linecap="butt" stroke="#999999" stroke-width="2.84"/>
<line x1="866.3" y1="179.9" x2="972.3" y2="206.6" stroke-linecap="butt" stroke="#cccccc" stroke-width="3.22"/>
<line x1="657.6" y1="103.9" x2="781.1" y2="137.4" stroke-linecap="butt" stroke="#747474" stroke-width="9.41"/>
<line x1="657.7" y1="103.7" x2="781.1" y2="137.2" stroke-linecap="butt" stroke="#b0b0b0" stroke-width="7.81"/>
<line x1="657.1" y1="105.9" x2="780.5" y2="139.4" stroke-linecap="butt" stroke="#999999" stroke-width="2.82"/>
<line x1="657.9" y1="102.8" x2="781.4" y2="136.3" stroke-linecap="butt" stroke="#cccccc" stroke-width="3.20"/>
<line x1="514.9" y1="56.2" x2="619.5" y2="85.3" stroke-linecap="butt" stroke="#747474" stroke-width="9.08"/>
<line x1="515.0" y1="56.0" x2="619.6" y2="85.1" stroke-linecap="butt" stroke="#b0b0b0" stroke-width="7.48"/>
<line x1="514.4" y1="58.1" x2="619.0" y2="87.2" stroke-linecap="butt" stroke="#999999" stroke-width="2.72"/>
<line x1="515.2" y1="55.2" x2="619.8" y2="84.2" stroke-linecap="butt" stroke="#cccccc" stroke-width="3.09"/>
<line x1="498.3" y1="53.5" x2="866.0" y2="181.0" stroke-linecap="butt" stroke="#565656" stroke-width="12.76"/>
<line x1="498.4" y1="53.3" x2="866.1" y2="180.8" stroke-linecap="butt" stroke="#a0a0a0" stroke-width="11.16"/>
<line x1="497.4" y1="56.2" x2="865.1" y2="183.7" stroke-linecap="butt" stroke="#848484" stroke-width="3.83"/>
<line x1="498.8" y1="52.1" x2="866.5" y2="179.6" stroke-linecap="butt" stroke="#c6c6c6" stroke-width="4.34"/>
<line x1="631.0" y1="99.6" x2="680.6" y2="116.8" stroke-linecap="butt" stroke="#454545" stroke-width="12.72"/>
<line x1="631.0" y1="99.4" x2="680.7" y2="116.6" stroke-linecap="butt" stroke="#7a7a7a" stroke-width="11.12"/>
<line x1="630.1" y1="102.3" x2="679.7" y2="119.5" stroke-linecap="butt" stroke="#666666" stroke-width="3.82"/>
<line x1="631.5" y1="98.2" x2="681.1" y2="115.4" stroke-linecap="butt" stroke="#aeaeae" stroke-width="4.32"/>
<line x1="829.6" y1="168.4" x2="866.0" y2="181.0" stroke-linecap="round" stroke="#454545" stroke-width="13.08"/>
<line x1="829.7" y1="168.2" x2="866.1" y2="180.8" stroke-linecap="round" stroke="#7a7a7a" stroke-width="11.48"/>
<line x1="828.7" y1="171.1" x2="865.1" y2="183.7" stroke-linecap="butt" stroke="#666666" stroke-width="3.92"/>
<line x1="830.2" y1="166.9" x2="866.5" y2="179.5" stroke-linecap="butt" stroke="#aeaeae" stroke-width="4.45"/>
<circle cx="879.1" cy="185.7" r="3.8" fill="#3a3a3a"/>
<line x1="137.0" y1="587.1" x2="310.8" y2="590.7" stroke-linecap="butt" stroke="#5e5e5e" stroke-width="9.29"/>
<line x1="137.0" y1="586.9" x2="310.8" y2="590.5" stroke-linecap="butt" stroke="#9c9c9c" stroke-width="7.69"/>
<line x1="137.0" y1="589.2" x2="310.7" y2="592.7" stroke-linecap="butt" stroke="#848484" stroke-width="2.79"/>
<line x1="137.0" y1="586.0" x2="310.8" y2="589.6" stroke-linecap="butt" stroke="#c6c6c6" stroke-width="3.16"/>
<line x1="660.6" y1="597.8" x2="866.0" y2="602.0" stroke-linecap="butt" stroke="#5e5e5e" stroke-width="10.95"/>
<line x1="660.6" y1="597.6" x2="866.0" y2="601.8" stroke-linecap="butt" stroke="#9c9c9c" stroke-width="9.35"/>
<line x1="660.5" y1="600.2" x2="866.0" y2="604.4" stroke-linecap="butt" stroke="#848484" stroke-width="3.28"/>
<line x1="660.6" y1="596.5" x2="866.0" y2="600.7" stroke-linecap="butt" stroke="#c6c6c6" stroke-width="3.72"/>
<path d="M439.0,68.1 L470.5,53.4 Q482.3,48.5 494.6,52.2 L533.5,65.8" fill="none" stroke="#3c3c3c" stroke-width="10.4" stroke-linecap="round"/>
<path d="M439.0,68.1 L470.5,53.4 Q482.3,48.5 494.6,52.2 L533.5,65.8" fill="none" stroke="#646464" stroke-width="8.6" stroke-linecap="round"/>
<path d="M439.0,68.1 L470.5,53.4 Q482.3,48.5 494.6,52.2 L533.5,65.8" fill="none" stroke="#828282" stroke-width="3.0" stroke-linecap="round" transform="translate(-0.3,-1.2)"/>
<line x1="454.8" y1="65.6" x2="511.4" y2="63.0" stroke-linecap="butt" stroke="#848484" stroke-width="3.60"/>
<line x1="454.8" y1="65.4" x2="511.4" y2="62.8" stroke-linecap="butt" stroke="#c0c0c0" stroke-width="2.00"/>
<circle cx="455.8" cy="63.1" r="1.3" fill="#ddd"/>
<circle cx="510.4" cy="60.5" r="1.3" fill="#ddd"/>
<path d="M138.0,241.0 L138.0,217.0 Q138.0,207.5 147.1,203.8 L170.8,192.7" fill="none" stroke="#3c3c3c" stroke-width="11.6"/>
<path d="M138.0,241.0 L138.0,217.0 Q138.0,207.5 147.1,203.8 L170.8,192.7" fill="none" stroke="#646464" stroke-width="9.8"/>
<path d="M138.0,241.0 L138.0,217.0 Q138.0,207.5 147.1,203.8 L170.8,192.7" fill="none" stroke="#828282" stroke-width="3.2" transform="translate(-1.0,-1.0)"/>
<ellipse cx="310.8" cy="599.3" rx="21.5" ry="1.7" fill="#5a5a5a"/>
<ellipse cx="660.6" cy="606.9" rx="22.7" ry="1.8" fill="#5a5a5a"/>
<polygon points="309.4,240.9 320.3,240.9 321.6,129.3 310.7,129.3" fill="url(#pg)"/>
<polygon points="304.3,596.2 317.2,596.2 321.7,203.4 308.8,203.4" fill="url(#pg)"/>
<polygon points="304.5,521.2 319.0,521.2 319.1,493.6 304.5,493.6" fill="url(#pg)"/>
<line x1="304.5" y1="521.2" x2="319.0" y2="521.2" stroke="#8a8a8a" stroke-width="0.8"/>
<polygon points="304.2,596.2 317.3,596.2 317.5,582.0 304.4,582.0" fill="url(#pgm)"/>
<polygon points="656.4,230.1 667.8,230.1 668.3,112.8 656.9,112.8" fill="url(#pg)"/>
<polygon points="653.8,603.6 667.4,603.6 669.1,180.3 655.5,180.3" fill="url(#pg)"/>
<polygon points="653.3,524.8 668.6,524.8 668.6,495.7 653.3,495.7" fill="url(#pg)"/>
<line x1="653.3" y1="524.8" x2="668.6" y2="524.8" stroke="#8a8a8a" stroke-width="0.8"/>
<polygon points="653.7,603.6 667.5,603.6 667.5,588.7 653.7,588.7" fill="url(#pgm)"/>
<ellipse cx="866.0" cy="611.3" rx="22.2" ry="1.9" fill="#5a5a5a"/>
<polygon points="859.7,608.0 872.3,608.0 872.3,185.3 859.7,185.3" fill="url(#pg)"/>
<polygon points="858.8,522.6 873.2,522.6 873.2,492.7 858.8,492.7" fill="url(#pg)"/>
<line x1="858.8" y1="522.6" x2="873.2" y2="522.6" stroke="#8a8a8a" stroke-width="0.8"/>
<polygon points="859.6,608.0 872.4,608.0 872.4,593.1 859.6,593.1" fill="url(#pgm)"/>
<path d="M866.0,207.0 L866.0,191.0 Q866.0,181.5 857.5,178.1 L817.6,164.3" fill="none" stroke="#565656" stroke-width="12.4"/>
<path d="M866.0,207.0 L866.0,191.0 Q866.0,181.5 857.5,178.1 L817.6,164.3" fill="none" stroke="#a0a0a0" stroke-width="10.6"/>
<path d="M866.0,207.0 L866.0,191.0 Q866.0,181.5 857.5,178.1 L817.6,164.3" fill="none" stroke="#c6c6c6" stroke-width="4.0" transform="translate(-1.2,-1.0)"/>
</g>
<g id="dims">
<line x1="60.5" y1="53.5" x2="60.5" y2="299.0" stroke="#454545" stroke-width="5.0"/>
<line x1="60.5" y1="339.0" x2="60.5" y2="581.0" stroke="#454545" stroke-width="5.0"/>
<polygon points="60.5,595.0 53.0,580.0 68.0,580.0" fill="#454545"/>
<polygon points="60.5,39.5 53.0,54.5 68.0,54.5" fill="#454545"/>
<rect x="14.1" y="303.6" width="93" height="33.5" rx="10" fill="#fff"/>
<text transform="translate(60.6,328.0) scale(1.064,1)" text-anchor="middle" font-size="23.6" fill="#2d2d2d">3,96 m</text>
<line x1="1347.5" y1="298.0" x2="1347.5" y2="392.5" stroke="#454545" stroke-width="5.0"/>
<line x1="1347.5" y1="434.5" x2="1347.5" y2="530.0" stroke="#454545" stroke-width="5.0"/>
<polygon points="1347.5,544.0 1340.0,529.0 1355.0,529.0" fill="#454545"/>
<polygon points="1347.5,284.0 1340.0,299.0 1355.0,299.0" fill="#454545"/>
<rect x="1308.3" y="396.5" width="80" height="33.5" rx="10" fill="#fff"/>
<text transform="translate(1348.3,421.1) scale(1.07,1)" text-anchor="middle" font-size="23.6" fill="#2d2d2d">2,5 m</text>
<line x1="131.5" y1="636.4" x2="439.5" y2="645.4" stroke="#454545" stroke-width="5.0"/>
<line x1="532.5" y1="648.1" x2="841.0" y2="657.1" stroke="#454545" stroke-width="5.0"/>
<polygon points="855.0,657.5 839.8,664.6 840.2,649.6" fill="#454545"/>
<polygon points="117.5,636.0 132.3,643.9 132.7,628.9" fill="#454545"/>
<rect x="453.9" y="627.0" width="66" height="33.5" rx="10" fill="#fff"/>
<text transform="translate(486.9,651.7) scale(1.07,1)" text-anchor="middle" font-size="23.6" fill="#2d2d2d">8 m</text>
<line x1="911.3" y1="652.9" x2="1059.0" y2="625.2" stroke="#454545" stroke-width="5.0"/>
<line x1="1146.0" y1="608.9" x2="1293.0" y2="581.3" stroke="#454545" stroke-width="5.0"/>
<polygon points="1306.8,578.8 1293.4,588.9 1290.6,574.1" fill="#454545"/>
<polygon points="897.5,655.5 913.6,660.1 910.9,645.4" fill="#454545"/>
<rect x="1063.0" y="598.0" width="76" height="33.5" rx="10" fill="#fff"/>
<text transform="translate(1101.0,622.0) scale(1.035,1)" text-anchor="middle" font-size="23.8" fill="#2d2d2d">22 m</text>
<line x1="268.5" y1="169.0" x2="268.5" y2="355.0" stroke="#d30a0a" stroke-width="5.5"/>
<line x1="268.5" y1="395.0" x2="268.5" y2="578.0" stroke="#d30a0a" stroke-width="5.5"/>
<polygon points="268.5,592.0 261.0,577.0 276.0,577.0" fill="#d30a0a"/>
<polygon points="268.5,155.0 261.0,170.0 276.0,170.0" fill="#d30a0a"/>
<rect x="227.1" y="358.0" width="83.6" height="34" rx="10" fill="#fff"/>
<text transform="translate(268.9,382.1) scale(1.043,1)" text-anchor="middle" font-size="19.5" fill="#d30a0a">3,09 m</text>
<line x1="344.0" y1="576.4" x2="434.0" y2="578.8" stroke="#d30a0a" stroke-width="5.5"/>
<line x1="524.9" y1="581.2" x2="616.0" y2="583.6" stroke="#d30a0a" stroke-width="5.5"/>
<polygon points="630.0,584.0 614.8,591.1 615.2,576.1" fill="#d30a0a"/>
<polygon points="330.0,576.0 344.8,583.9 345.2,568.9" fill="#d30a0a"/>
<rect x="436.1" y="561.1" width="86.5" height="32.6" rx="10" fill="#fff"/>
<text transform="translate(479.4,585.0) scale(1.05,1)" text-anchor="middle" font-size="19.5" fill="#d30a0a">4,06 m</text>
<circle cx="232" cy="165" r="16.8" fill="#2e2e2e"/>
<text x="232" y="172" text-anchor="middle" font-size="19.5" fill="#fff" stroke="#fff" stroke-width="0.5">1</text>
<circle cx="325.5" cy="123" r="16.8" fill="#2e2e2e"/>
<text x="325.5" y="130" text-anchor="middle" font-size="19.5" fill="#fff" stroke="#fff" stroke-width="0.5">2</text>
<circle cx="483.5" cy="92" r="16.8" fill="#2e2e2e"/>
<text x="483.5" y="99" text-anchor="middle" font-size="19.5" fill="#fff" stroke="#fff" stroke-width="0.5">3</text>
<circle cx="865" cy="476" r="16.8" fill="#2e2e2e"/>
<text x="865" y="483" text-anchor="middle" font-size="19.5" fill="#fff" stroke="#fff" stroke-width="0.5">4</text>
<circle cx="663" cy="427" r="16.8" fill="#2e2e2e"/>
<text x="663" y="434" text-anchor="middle" font-size="19.5" fill="#fff" stroke="#fff" stroke-width="0.5">5</text>
<circle cx="756" cy="601.5" r="16.8" fill="#2e2e2e"/>
<text x="756" y="608.5" text-anchor="middle" font-size="19.5" fill="#fff" stroke="#fff" stroke-width="0.5">6</text>
<circle cx="864" cy="604.5" r="16.8" fill="#2e2e2e"/>
<text x="864" y="611.5" text-anchor="middle" font-size="19.5" fill="#fff" stroke="#fff" stroke-width="0.5">7</text>
<circle cx="445.5" cy="203" r="16.8" fill="#2e2e2e"/>
<text x="445.5" y="210" text-anchor="middle" font-size="19.5" fill="#fff" stroke="#fff" stroke-width="0.5">8</text>
<circle cx="346.3" cy="349" r="16.8" fill="#2e2e2e"/>
<text x="346.3" y="356" text-anchor="middle" font-size="19.5" fill="#fff" stroke="#fff" stroke-width="0.5">9</text>
</g>
</svg>
</body>
</html>
